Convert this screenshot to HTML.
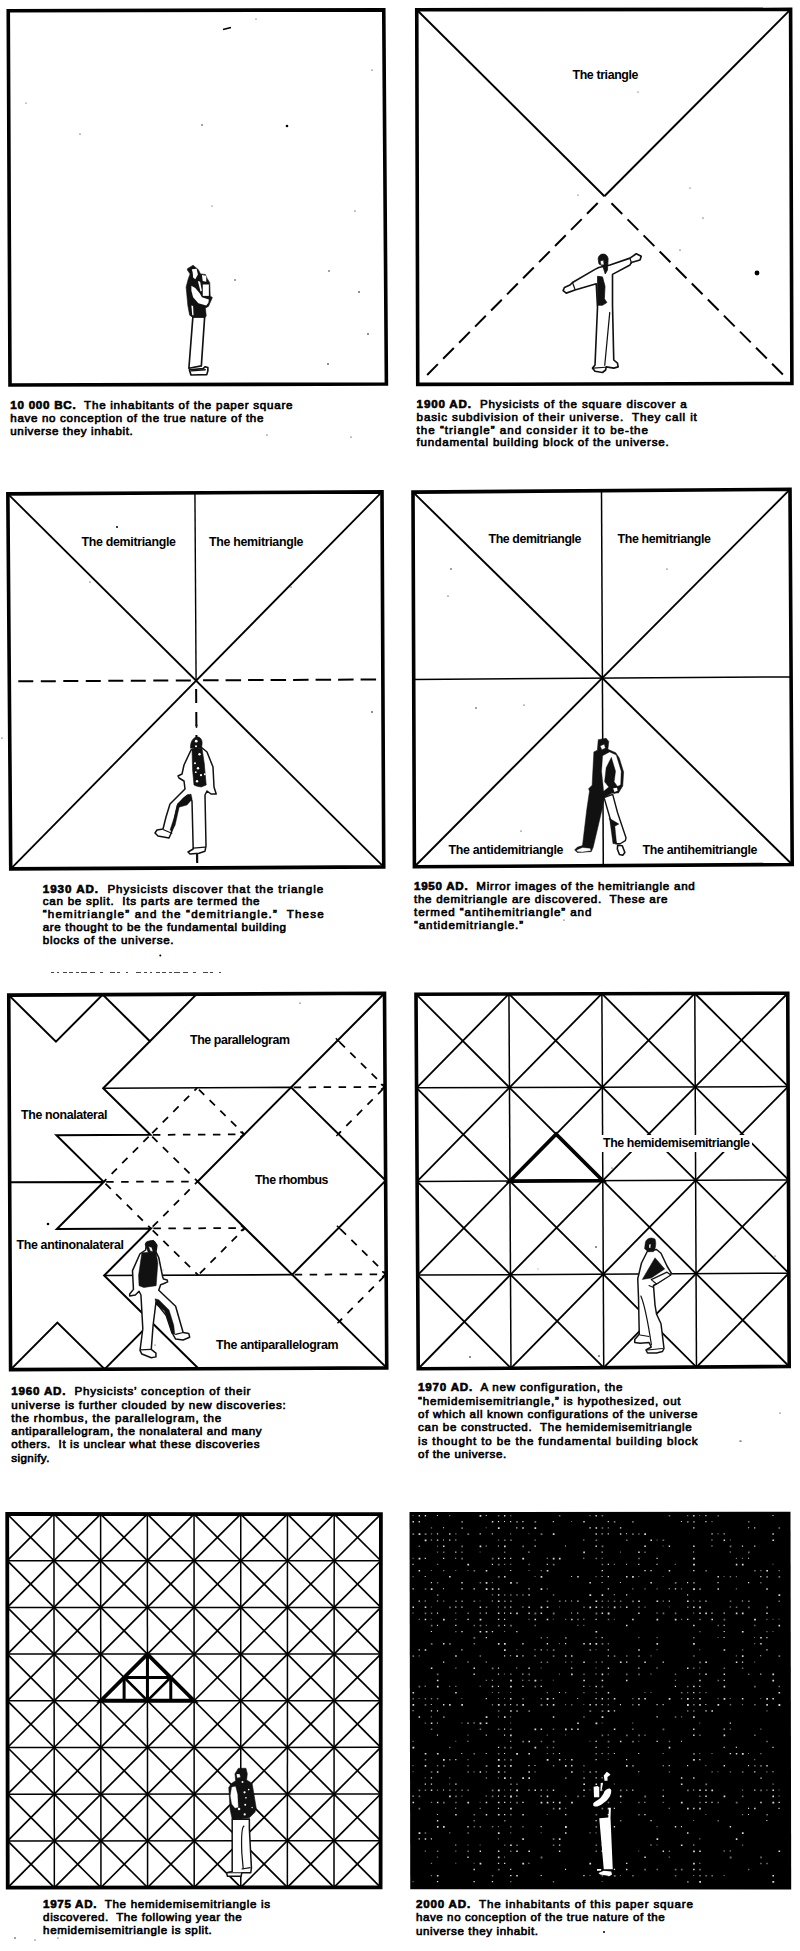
<!DOCTYPE html>
<html><head><meta charset="utf-8"><style>
html,body{margin:0;padding:0;background:#fff;width:800px;height:1951px;overflow:hidden}
svg{display:block}
text{font-family:"Liberation Sans",sans-serif;fill:#111;stroke:none;white-space:pre}
text.c{stroke:#000;stroke-width:0.65}
text{fill:#000}
</style></head><body>
<svg width="800" height="1951" viewBox="0 0 800 1951" stroke="#000" fill="none">
<rect x="0" y="0" width="800" height="1951" fill="#fff" stroke="none"/>
<path d="M8.25,10.75 L383.75,9.85 L386.40,384.00 L10.00,385.00 Z" fill="none" stroke-width="3.6" stroke-linejoin="miter"/>
<path d="M416.75,9.75 L790.60,9.40 L791.90,383.50 L417.75,384.40 Z" fill="none" stroke-width="3.6" stroke-linejoin="miter"/>
<line x1="416.75" y1="9.75" x2="604.40" y2="196.25" stroke-width="1.9" />
<line x1="790.60" y1="9.40" x2="604.40" y2="196.25" stroke-width="1.9" />
<line x1="597.71" y1="202.99" x2="423.38" y2="378.72" stroke-width="2.0" stroke-dasharray="15.2 7.5"/>
<line x1="611.48" y1="203.32" x2="786.24" y2="377.85" stroke-width="2.0" stroke-dasharray="15.2 7.5"/>
<path d="M7.85,493.85 L382.00,491.90 L383.75,866.90 L10.75,868.90 Z" fill="none" stroke-width="3.6" stroke-linejoin="miter"/>
<line x1="7.85" y1="493.85" x2="383.75" y2="866.90" stroke-width="1.8" />
<line x1="382.00" y1="491.90" x2="10.75" y2="868.90" stroke-width="1.8" />
<line x1="194.93" y1="492.88" x2="196.09" y2="680.39" stroke-width="1.4" />
<line x1="18.30" y1="681.33" x2="193.09" y2="680.40" stroke-width="2.0" stroke-dasharray="15 7.5"/>
<line x1="203.09" y1="680.35" x2="377.88" y2="679.43" stroke-width="2.0" stroke-dasharray="15.5 7"/>
<line x1="196.14" y1="688.89" x2="197.22" y2="862.90" stroke-width="2.0" stroke-dasharray="14 9"/>
<path d="M413.00,492.10 L790.00,489.35 L792.20,864.50 L414.40,866.75 Z" fill="none" stroke-width="3.6" stroke-linejoin="miter"/>
<line x1="413.00" y1="492.10" x2="792.20" y2="864.50" stroke-width="1.9" />
<line x1="790.00" y1="489.35" x2="414.40" y2="866.75" stroke-width="1.9" />
<line x1="601.50" y1="490.73" x2="603.30" y2="865.62" stroke-width="1.5" />
<line x1="413.70" y1="679.42" x2="791.10" y2="676.92" stroke-width="1.5" />
<path d="M8.75,995.10 L384.50,993.25 L386.75,1367.90 L10.60,1369.60 Z" fill="none" stroke-width="3.6" stroke-linejoin="miter"/>
<path d="M8.75,995.10 L55.96,1041.68 L102.69,994.64 L149.91,1041.23 L196.62,994.17" fill="none" stroke-width="2.0" stroke-linejoin="miter"/>
<path d="M149.91,1041.23 L103.17,1088.27 L150.41,1134.86 L56.43,1135.31 L103.66,1181.91" fill="none" stroke-width="2.0" stroke-linejoin="miter"/>
<path d="M103.17,1088.27 L291.10,1087.37" fill="none" stroke-width="1.6" stroke-linejoin="miter"/>
<path d="M384.50,993.25 L197.65,1181.46 L386.75,1367.90" fill="none" stroke-width="2.0" stroke-linejoin="miter"/>
<path d="M291.10,1087.37 L385.62,1180.58 L292.18,1274.67" fill="none" stroke-width="2.0" stroke-linejoin="miter"/>
<path d="M9.68,1182.35 L103.66,1181.91 L56.91,1228.94 L150.91,1228.50 L104.15,1275.54 L198.68,1368.75" fill="none" stroke-width="2.0" stroke-linejoin="miter"/>
<path d="M104.15,1275.54 L292.18,1274.67" fill="none" stroke-width="1.6" stroke-linejoin="miter"/>
<path d="M10.60,1369.60 L57.38,1322.57 L104.64,1369.17 L151.41,1322.14" fill="none" stroke-width="2.0" stroke-linejoin="miter"/>
<line x1="152.17" y1="1133.09" x2="197.14" y2="1087.82" stroke-width="1.75" stroke-dasharray="7.5 7.5"/>
<line x1="198.92" y1="1089.57" x2="244.38" y2="1134.42" stroke-width="1.75" stroke-dasharray="7.5 7.5"/>
<line x1="152.91" y1="1134.85" x2="244.38" y2="1134.42" stroke-width="1.75" stroke-dasharray="7.5 7.5"/>
<path d="M240.38,1131.62 L243.88,1134.42 L240.38,1137.22" stroke-width="1.6"/>
<line x1="148.64" y1="1136.64" x2="103.66" y2="1181.91" stroke-width="1.75" stroke-dasharray="7.5 7.5"/>
<line x1="152.19" y1="1136.62" x2="197.65" y2="1181.46" stroke-width="1.75" stroke-dasharray="7.5 7.5"/>
<line x1="106.16" y1="1181.89" x2="197.65" y2="1181.46" stroke-width="1.75" stroke-dasharray="7.5 7.5"/>
<line x1="105.44" y1="1183.66" x2="150.91" y2="1228.50" stroke-width="1.75" stroke-dasharray="7.5 7.5"/>
<line x1="152.67" y1="1226.73" x2="197.65" y2="1181.46" stroke-width="1.75" stroke-dasharray="7.5 7.5"/>
<line x1="153.41" y1="1228.49" x2="244.91" y2="1228.06" stroke-width="1.75" stroke-dasharray="7.5 7.5"/>
<path d="M240.91,1225.26 L244.41,1228.06 L240.91,1230.86" stroke-width="1.6"/>
<line x1="152.69" y1="1230.26" x2="198.16" y2="1275.11" stroke-width="1.75" stroke-dasharray="7.5 7.5"/>
<line x1="199.92" y1="1273.33" x2="244.91" y2="1228.06" stroke-width="1.75" stroke-dasharray="7.5 7.5"/>
<line x1="293.60" y1="1087.35" x2="385.06" y2="1086.91" stroke-width="1.75" stroke-dasharray="7.5 7.5"/>
<path d="M381.06,1084.11 L384.56,1086.91 L381.06,1089.71" stroke-width="1.6"/>
<line x1="339.59" y1="1042.07" x2="385.06" y2="1086.91" stroke-width="1.75" stroke-dasharray="7.5 7.5"/>
<line x1="383.30" y1="1088.69" x2="338.36" y2="1133.97" stroke-width="1.75" stroke-dasharray="7.5 7.5"/>
<line x1="294.67" y1="1274.66" x2="386.19" y2="1274.24" stroke-width="1.75" stroke-dasharray="7.5 7.5"/>
<path d="M382.19,1271.44 L385.69,1274.24 L382.19,1277.04" stroke-width="1.6"/>
<line x1="340.69" y1="1229.38" x2="386.19" y2="1274.24" stroke-width="1.75" stroke-dasharray="7.5 7.5"/>
<line x1="384.43" y1="1276.01" x2="339.46" y2="1321.28" stroke-width="1.75" stroke-dasharray="7.5 7.5"/>
<path d="M416.00,994.20 L787.75,993.25 L789.20,1366.50 L418.25,1368.75 Z" fill="none" stroke-width="3.6" stroke-linejoin="miter"/>
<line x1="508.94" y1="993.96" x2="510.99" y2="1368.19" stroke-width="1.5" />
<line x1="416.56" y1="1087.84" x2="788.11" y2="1086.56" stroke-width="1.5" />
<line x1="601.88" y1="993.73" x2="603.73" y2="1367.62" stroke-width="1.5" />
<line x1="417.12" y1="1181.47" x2="788.48" y2="1179.88" stroke-width="1.5" />
<line x1="694.81" y1="993.49" x2="696.46" y2="1367.06" stroke-width="1.5" />
<line x1="417.69" y1="1275.11" x2="788.84" y2="1273.19" stroke-width="1.5" />
<line x1="416.00" y1="994.20" x2="509.45" y2="1087.52" stroke-width="1.8" />
<line x1="508.94" y1="993.96" x2="416.56" y2="1087.84" stroke-width="1.8" />
<line x1="416.56" y1="1087.84" x2="509.96" y2="1181.08" stroke-width="1.8" />
<line x1="509.45" y1="1087.52" x2="417.12" y2="1181.47" stroke-width="1.8" />
<line x1="417.12" y1="1181.47" x2="510.48" y2="1274.63" stroke-width="1.8" />
<line x1="509.96" y1="1181.08" x2="417.69" y2="1275.11" stroke-width="1.8" />
<line x1="417.69" y1="1275.11" x2="510.99" y2="1368.19" stroke-width="1.8" />
<line x1="510.48" y1="1274.63" x2="418.25" y2="1368.75" stroke-width="1.8" />
<line x1="508.94" y1="993.96" x2="602.34" y2="1087.20" stroke-width="1.8" />
<line x1="601.88" y1="993.73" x2="509.45" y2="1087.52" stroke-width="1.8" />
<line x1="509.45" y1="1087.52" x2="602.80" y2="1180.67" stroke-width="1.8" />
<line x1="602.34" y1="1087.20" x2="509.96" y2="1181.08" stroke-width="1.8" />
<line x1="509.96" y1="1181.08" x2="603.26" y2="1274.15" stroke-width="1.8" />
<line x1="602.80" y1="1180.67" x2="510.48" y2="1274.63" stroke-width="1.8" />
<line x1="510.48" y1="1274.63" x2="603.73" y2="1367.62" stroke-width="1.8" />
<line x1="603.26" y1="1274.15" x2="510.99" y2="1368.19" stroke-width="1.8" />
<line x1="601.88" y1="993.73" x2="695.23" y2="1086.88" stroke-width="1.8" />
<line x1="694.81" y1="993.49" x2="602.34" y2="1087.20" stroke-width="1.8" />
<line x1="602.34" y1="1087.20" x2="695.64" y2="1180.28" stroke-width="1.8" />
<line x1="695.23" y1="1086.88" x2="602.80" y2="1180.67" stroke-width="1.8" />
<line x1="602.80" y1="1180.67" x2="696.05" y2="1273.67" stroke-width="1.8" />
<line x1="695.64" y1="1180.28" x2="603.26" y2="1274.15" stroke-width="1.8" />
<line x1="603.26" y1="1274.15" x2="696.46" y2="1367.06" stroke-width="1.8" />
<line x1="696.05" y1="1273.67" x2="603.73" y2="1367.62" stroke-width="1.8" />
<line x1="694.81" y1="993.49" x2="788.11" y2="1086.56" stroke-width="1.8" />
<line x1="787.75" y1="993.25" x2="695.23" y2="1086.88" stroke-width="1.8" />
<line x1="695.23" y1="1086.88" x2="788.48" y2="1179.88" stroke-width="1.8" />
<line x1="788.11" y1="1086.56" x2="695.64" y2="1180.28" stroke-width="1.8" />
<line x1="695.64" y1="1180.28" x2="788.84" y2="1273.19" stroke-width="1.8" />
<line x1="788.48" y1="1179.88" x2="696.05" y2="1273.67" stroke-width="1.8" />
<line x1="696.05" y1="1273.67" x2="789.20" y2="1366.50" stroke-width="1.8" />
<line x1="788.84" y1="1273.19" x2="696.46" y2="1367.06" stroke-width="1.8" />
<path d="M509.96,1181.08 L556.14,1134.12 L602.80,1180.67 Z" fill="none" stroke-width="3.6" stroke-linejoin="miter"/>
<path d="M7.20,1514.00 L380.90,1514.10 L380.60,1887.30 L7.75,1887.60 Z" fill="none" stroke-width="3.8" stroke-linejoin="miter"/>
<line x1="53.91" y1="1514.01" x2="54.36" y2="1887.56" stroke-width="1.5" />
<line x1="7.27" y1="1560.70" x2="380.86" y2="1560.75" stroke-width="1.5" />
<line x1="100.62" y1="1514.03" x2="100.96" y2="1887.52" stroke-width="1.5" />
<line x1="7.34" y1="1607.40" x2="380.82" y2="1607.40" stroke-width="1.5" />
<line x1="147.34" y1="1514.04" x2="147.57" y2="1887.49" stroke-width="1.5" />
<line x1="7.41" y1="1654.10" x2="380.79" y2="1654.05" stroke-width="1.5" />
<line x1="194.05" y1="1514.05" x2="194.18" y2="1887.45" stroke-width="1.5" />
<line x1="7.47" y1="1700.80" x2="380.75" y2="1700.70" stroke-width="1.5" />
<line x1="240.76" y1="1514.06" x2="240.78" y2="1887.41" stroke-width="1.5" />
<line x1="7.54" y1="1747.50" x2="380.71" y2="1747.35" stroke-width="1.5" />
<line x1="287.47" y1="1514.07" x2="287.39" y2="1887.38" stroke-width="1.5" />
<line x1="7.61" y1="1794.20" x2="380.68" y2="1794.00" stroke-width="1.5" />
<line x1="334.19" y1="1514.09" x2="333.99" y2="1887.34" stroke-width="1.5" />
<line x1="7.68" y1="1840.90" x2="380.64" y2="1840.65" stroke-width="1.5" />
<line x1="7.20" y1="1514.00" x2="53.97" y2="1560.71" stroke-width="1.7" />
<line x1="53.91" y1="1514.01" x2="7.27" y2="1560.70" stroke-width="1.7" />
<line x1="7.27" y1="1560.70" x2="54.02" y2="1607.40" stroke-width="1.7" />
<line x1="53.97" y1="1560.71" x2="7.34" y2="1607.40" stroke-width="1.7" />
<line x1="7.34" y1="1607.40" x2="54.08" y2="1654.09" stroke-width="1.7" />
<line x1="54.02" y1="1607.40" x2="7.41" y2="1654.10" stroke-width="1.7" />
<line x1="7.41" y1="1654.10" x2="54.13" y2="1700.79" stroke-width="1.7" />
<line x1="54.08" y1="1654.09" x2="7.47" y2="1700.80" stroke-width="1.7" />
<line x1="7.47" y1="1700.80" x2="54.19" y2="1747.48" stroke-width="1.7" />
<line x1="54.13" y1="1700.79" x2="7.54" y2="1747.50" stroke-width="1.7" />
<line x1="7.54" y1="1747.50" x2="54.25" y2="1794.17" stroke-width="1.7" />
<line x1="54.19" y1="1747.48" x2="7.61" y2="1794.20" stroke-width="1.7" />
<line x1="7.61" y1="1794.20" x2="54.30" y2="1840.87" stroke-width="1.7" />
<line x1="54.25" y1="1794.17" x2="7.68" y2="1840.90" stroke-width="1.7" />
<line x1="7.68" y1="1840.90" x2="54.36" y2="1887.56" stroke-width="1.7" />
<line x1="54.30" y1="1840.87" x2="7.75" y2="1887.60" stroke-width="1.7" />
<line x1="53.91" y1="1514.01" x2="100.67" y2="1560.71" stroke-width="1.7" />
<line x1="100.62" y1="1514.03" x2="53.97" y2="1560.71" stroke-width="1.7" />
<line x1="53.97" y1="1560.71" x2="100.71" y2="1607.40" stroke-width="1.7" />
<line x1="100.67" y1="1560.71" x2="54.02" y2="1607.40" stroke-width="1.7" />
<line x1="54.02" y1="1607.40" x2="100.75" y2="1654.09" stroke-width="1.7" />
<line x1="100.71" y1="1607.40" x2="54.08" y2="1654.09" stroke-width="1.7" />
<line x1="54.08" y1="1654.09" x2="100.79" y2="1700.77" stroke-width="1.7" />
<line x1="100.75" y1="1654.09" x2="54.13" y2="1700.79" stroke-width="1.7" />
<line x1="54.13" y1="1700.79" x2="100.84" y2="1747.46" stroke-width="1.7" />
<line x1="100.79" y1="1700.77" x2="54.19" y2="1747.48" stroke-width="1.7" />
<line x1="54.19" y1="1747.48" x2="100.88" y2="1794.15" stroke-width="1.7" />
<line x1="100.84" y1="1747.46" x2="54.25" y2="1794.17" stroke-width="1.7" />
<line x1="54.25" y1="1794.17" x2="100.92" y2="1840.84" stroke-width="1.7" />
<line x1="100.88" y1="1794.15" x2="54.30" y2="1840.87" stroke-width="1.7" />
<line x1="54.30" y1="1840.87" x2="100.96" y2="1887.52" stroke-width="1.7" />
<line x1="100.92" y1="1840.84" x2="54.36" y2="1887.56" stroke-width="1.7" />
<line x1="100.62" y1="1514.03" x2="147.37" y2="1560.72" stroke-width="1.7" />
<line x1="147.34" y1="1514.04" x2="100.67" y2="1560.71" stroke-width="1.7" />
<line x1="100.67" y1="1560.71" x2="147.40" y2="1607.40" stroke-width="1.7" />
<line x1="147.37" y1="1560.72" x2="100.71" y2="1607.40" stroke-width="1.7" />
<line x1="100.71" y1="1607.40" x2="147.42" y2="1654.08" stroke-width="1.7" />
<line x1="147.40" y1="1607.40" x2="100.75" y2="1654.09" stroke-width="1.7" />
<line x1="100.75" y1="1654.09" x2="147.45" y2="1700.76" stroke-width="1.7" />
<line x1="147.42" y1="1654.08" x2="100.79" y2="1700.77" stroke-width="1.7" />
<line x1="100.79" y1="1700.77" x2="147.48" y2="1747.44" stroke-width="1.7" />
<line x1="147.45" y1="1700.76" x2="100.84" y2="1747.46" stroke-width="1.7" />
<line x1="100.84" y1="1747.46" x2="147.51" y2="1794.12" stroke-width="1.7" />
<line x1="147.48" y1="1747.44" x2="100.88" y2="1794.15" stroke-width="1.7" />
<line x1="100.88" y1="1794.15" x2="147.54" y2="1840.81" stroke-width="1.7" />
<line x1="147.51" y1="1794.12" x2="100.92" y2="1840.84" stroke-width="1.7" />
<line x1="100.92" y1="1840.84" x2="147.57" y2="1887.49" stroke-width="1.7" />
<line x1="147.54" y1="1840.81" x2="100.96" y2="1887.52" stroke-width="1.7" />
<line x1="147.34" y1="1514.04" x2="194.07" y2="1560.72" stroke-width="1.7" />
<line x1="194.05" y1="1514.05" x2="147.37" y2="1560.72" stroke-width="1.7" />
<line x1="147.37" y1="1560.72" x2="194.08" y2="1607.40" stroke-width="1.7" />
<line x1="194.07" y1="1560.72" x2="147.40" y2="1607.40" stroke-width="1.7" />
<line x1="147.40" y1="1607.40" x2="194.10" y2="1654.07" stroke-width="1.7" />
<line x1="194.08" y1="1607.40" x2="147.42" y2="1654.08" stroke-width="1.7" />
<line x1="147.42" y1="1654.08" x2="194.11" y2="1700.75" stroke-width="1.7" />
<line x1="194.10" y1="1654.07" x2="147.45" y2="1700.76" stroke-width="1.7" />
<line x1="147.45" y1="1700.76" x2="194.13" y2="1747.42" stroke-width="1.7" />
<line x1="194.11" y1="1700.75" x2="147.48" y2="1747.44" stroke-width="1.7" />
<line x1="147.48" y1="1747.44" x2="194.14" y2="1794.10" stroke-width="1.7" />
<line x1="194.13" y1="1747.42" x2="147.51" y2="1794.12" stroke-width="1.7" />
<line x1="147.51" y1="1794.12" x2="194.16" y2="1840.78" stroke-width="1.7" />
<line x1="194.14" y1="1794.10" x2="147.54" y2="1840.81" stroke-width="1.7" />
<line x1="147.54" y1="1840.81" x2="194.18" y2="1887.45" stroke-width="1.7" />
<line x1="194.16" y1="1840.78" x2="147.57" y2="1887.49" stroke-width="1.7" />
<line x1="194.05" y1="1514.05" x2="240.76" y2="1560.73" stroke-width="1.7" />
<line x1="240.76" y1="1514.06" x2="194.07" y2="1560.72" stroke-width="1.7" />
<line x1="194.07" y1="1560.72" x2="240.77" y2="1607.40" stroke-width="1.7" />
<line x1="240.76" y1="1560.73" x2="194.08" y2="1607.40" stroke-width="1.7" />
<line x1="194.08" y1="1607.40" x2="240.77" y2="1654.07" stroke-width="1.7" />
<line x1="240.77" y1="1607.40" x2="194.10" y2="1654.07" stroke-width="1.7" />
<line x1="194.10" y1="1654.07" x2="240.77" y2="1700.74" stroke-width="1.7" />
<line x1="240.77" y1="1654.07" x2="194.11" y2="1700.75" stroke-width="1.7" />
<line x1="194.11" y1="1700.75" x2="240.77" y2="1747.41" stroke-width="1.7" />
<line x1="240.77" y1="1700.74" x2="194.13" y2="1747.42" stroke-width="1.7" />
<line x1="194.13" y1="1747.42" x2="240.78" y2="1794.07" stroke-width="1.7" />
<line x1="240.77" y1="1747.41" x2="194.14" y2="1794.10" stroke-width="1.7" />
<line x1="194.14" y1="1794.10" x2="240.78" y2="1840.74" stroke-width="1.7" />
<line x1="240.78" y1="1794.07" x2="194.16" y2="1840.78" stroke-width="1.7" />
<line x1="194.16" y1="1840.78" x2="240.78" y2="1887.41" stroke-width="1.7" />
<line x1="240.78" y1="1840.74" x2="194.18" y2="1887.45" stroke-width="1.7" />
<line x1="240.76" y1="1514.06" x2="287.46" y2="1560.74" stroke-width="1.7" />
<line x1="287.47" y1="1514.07" x2="240.76" y2="1560.73" stroke-width="1.7" />
<line x1="240.76" y1="1560.73" x2="287.45" y2="1607.40" stroke-width="1.7" />
<line x1="287.46" y1="1560.74" x2="240.77" y2="1607.40" stroke-width="1.7" />
<line x1="240.77" y1="1607.40" x2="287.44" y2="1654.06" stroke-width="1.7" />
<line x1="287.45" y1="1607.40" x2="240.77" y2="1654.07" stroke-width="1.7" />
<line x1="240.77" y1="1654.07" x2="287.43" y2="1700.72" stroke-width="1.7" />
<line x1="287.44" y1="1654.06" x2="240.77" y2="1700.74" stroke-width="1.7" />
<line x1="240.77" y1="1700.74" x2="287.42" y2="1747.39" stroke-width="1.7" />
<line x1="287.43" y1="1700.72" x2="240.77" y2="1747.41" stroke-width="1.7" />
<line x1="240.77" y1="1747.41" x2="287.41" y2="1794.05" stroke-width="1.7" />
<line x1="287.42" y1="1747.39" x2="240.78" y2="1794.07" stroke-width="1.7" />
<line x1="240.78" y1="1794.07" x2="287.40" y2="1840.71" stroke-width="1.7" />
<line x1="287.41" y1="1794.05" x2="240.78" y2="1840.74" stroke-width="1.7" />
<line x1="240.78" y1="1840.74" x2="287.39" y2="1887.38" stroke-width="1.7" />
<line x1="287.40" y1="1840.71" x2="240.78" y2="1887.41" stroke-width="1.7" />
<line x1="287.47" y1="1514.07" x2="334.16" y2="1560.74" stroke-width="1.7" />
<line x1="334.19" y1="1514.09" x2="287.46" y2="1560.74" stroke-width="1.7" />
<line x1="287.46" y1="1560.74" x2="334.14" y2="1607.40" stroke-width="1.7" />
<line x1="334.16" y1="1560.74" x2="287.45" y2="1607.40" stroke-width="1.7" />
<line x1="287.45" y1="1607.40" x2="334.11" y2="1654.06" stroke-width="1.7" />
<line x1="334.14" y1="1607.40" x2="287.44" y2="1654.06" stroke-width="1.7" />
<line x1="287.44" y1="1654.06" x2="334.09" y2="1700.71" stroke-width="1.7" />
<line x1="334.11" y1="1654.06" x2="287.43" y2="1700.72" stroke-width="1.7" />
<line x1="287.43" y1="1700.72" x2="334.07" y2="1747.37" stroke-width="1.7" />
<line x1="334.09" y1="1700.71" x2="287.42" y2="1747.39" stroke-width="1.7" />
<line x1="287.42" y1="1747.39" x2="334.04" y2="1794.03" stroke-width="1.7" />
<line x1="334.07" y1="1747.37" x2="287.41" y2="1794.05" stroke-width="1.7" />
<line x1="287.41" y1="1794.05" x2="334.02" y2="1840.68" stroke-width="1.7" />
<line x1="334.04" y1="1794.03" x2="287.40" y2="1840.71" stroke-width="1.7" />
<line x1="287.40" y1="1840.71" x2="333.99" y2="1887.34" stroke-width="1.7" />
<line x1="334.02" y1="1840.68" x2="287.39" y2="1887.38" stroke-width="1.7" />
<line x1="334.19" y1="1514.09" x2="380.86" y2="1560.75" stroke-width="1.7" />
<line x1="380.90" y1="1514.10" x2="334.16" y2="1560.74" stroke-width="1.7" />
<line x1="334.16" y1="1560.74" x2="380.82" y2="1607.40" stroke-width="1.7" />
<line x1="380.86" y1="1560.75" x2="334.14" y2="1607.40" stroke-width="1.7" />
<line x1="334.14" y1="1607.40" x2="380.79" y2="1654.05" stroke-width="1.7" />
<line x1="380.82" y1="1607.40" x2="334.11" y2="1654.06" stroke-width="1.7" />
<line x1="334.11" y1="1654.06" x2="380.75" y2="1700.70" stroke-width="1.7" />
<line x1="380.79" y1="1654.05" x2="334.09" y2="1700.71" stroke-width="1.7" />
<line x1="334.09" y1="1700.71" x2="380.71" y2="1747.35" stroke-width="1.7" />
<line x1="380.75" y1="1700.70" x2="334.07" y2="1747.37" stroke-width="1.7" />
<line x1="334.07" y1="1747.37" x2="380.68" y2="1794.00" stroke-width="1.7" />
<line x1="380.71" y1="1747.35" x2="334.04" y2="1794.03" stroke-width="1.7" />
<line x1="334.04" y1="1794.03" x2="380.64" y2="1840.65" stroke-width="1.7" />
<line x1="380.68" y1="1794.00" x2="334.02" y2="1840.68" stroke-width="1.7" />
<line x1="334.02" y1="1840.68" x2="380.60" y2="1887.30" stroke-width="1.7" />
<line x1="380.64" y1="1840.65" x2="333.99" y2="1887.34" stroke-width="1.7" />
<path d="M100.79,1700.77 L147.42,1654.08 L194.11,1700.75 Z" fill="none" stroke-width="3.8" stroke-linejoin="miter"/>
<path d="M124.11,1677.43 L170.77,1677.42" fill="none" stroke-width="3.0" stroke-linejoin="miter"/>
<path d="M124.11,1677.43 L124.12,1700.77" fill="none" stroke-width="3.0" stroke-linejoin="miter"/>
<path d="M170.77,1677.42 L170.78,1700.76" fill="none" stroke-width="3.0" stroke-linejoin="miter"/>
<path d="M147.42,1654.08 L147.45,1700.76" fill="none" stroke-width="3.0" stroke-linejoin="miter"/>
<path d="M124.11,1677.43 L147.45,1700.76 L170.77,1677.42" fill="none" stroke-width="2.6" stroke-linejoin="miter"/>
<path d="M409.5,1512 L790.5,1511.75 L791.2,1889.5 L410.25,1889.25 Z" fill="#000" stroke="none"/>
<path d="M418.6,1515.0h1.4v1.4h-1.4zM424.7,1515.0h1.4v1.4h-1.4zM436.9,1515.0h1.1v1.1h-1.1zM479.6,1515.0h1.7v1.7h-1.7zM485.7,1515.0h1.1v1.1h-1.1zM504.0,1515.0h1.4v1.4h-1.4zM595.5,1515.0h1.4v1.4h-1.4zM693.1,1515.0h1.4v1.4h-1.4zM705.3,1515.0h1.2v1.2h-1.2zM772.4,1515.0h1.1v1.1h-1.1zM412.5,1521.1h1.5v1.5h-1.5zM418.6,1521.1h1.3v1.3h-1.3zM491.8,1521.1h1.5v1.5h-1.5zM497.9,1521.1h1.2v1.2h-1.2zM504.0,1521.1h1.0v1.0h-1.0zM510.1,1521.1h1.1v1.1h-1.1zM522.3,1521.1h1.2v1.2h-1.2zM552.8,1521.1h1.1v1.1h-1.1zM583.3,1521.1h1.4v1.4h-1.4zM607.7,1521.1h1.2v1.2h-1.2zM680.9,1521.1h1.0v1.0h-1.0zM705.3,1521.1h1.2v1.2h-1.2zM443.0,1527.2h1.1v1.1h-1.1zM497.9,1527.2h1.7v1.7h-1.7zM516.2,1527.2h1.2v1.2h-1.2zM522.3,1527.2h1.5v1.5h-1.5zM534.5,1527.2h1.7v1.7h-1.7zM589.4,1527.2h1.4v1.4h-1.4zM595.5,1527.2h1.6v1.6h-1.6zM619.9,1527.2h1.4v1.4h-1.4zM693.1,1527.2h1.4v1.4h-1.4zM748.0,1527.2h1.1v1.1h-1.1zM754.1,1527.2h1.2v1.2h-1.2zM418.6,1533.3h1.8v1.8h-1.8zM436.9,1533.3h1.2v1.2h-1.2zM449.1,1533.3h1.4v1.4h-1.4zM479.6,1533.3h1.2v1.2h-1.2zM491.8,1533.3h1.1v1.1h-1.1zM552.8,1533.3h1.7v1.7h-1.7zM595.5,1533.3h1.4v1.4h-1.4zM601.6,1533.3h1.1v1.1h-1.1zM607.7,1533.3h1.2v1.2h-1.2zM619.9,1533.3h1.4v1.4h-1.4zM626.0,1533.3h1.0v1.0h-1.0zM644.3,1533.3h1.7v1.7h-1.7zM711.4,1533.3h1.3v1.3h-1.3zM723.6,1533.3h1.1v1.1h-1.1zM772.4,1533.3h1.4v1.4h-1.4zM424.7,1539.4h1.8v1.8h-1.8zM430.8,1539.4h1.0v1.0h-1.0zM436.9,1539.4h1.4v1.4h-1.4zM443.0,1539.4h1.0v1.0h-1.0zM449.1,1539.4h1.3v1.3h-1.3zM455.2,1539.4h1.2v1.2h-1.2zM583.3,1539.4h1.0v1.0h-1.0zM650.4,1539.4h1.6v1.6h-1.6zM711.4,1539.4h1.1v1.1h-1.1zM723.6,1539.4h1.5v1.5h-1.5zM772.4,1539.4h1.7v1.7h-1.7zM443.0,1545.5h1.5v1.5h-1.5zM479.6,1545.5h1.7v1.7h-1.7zM485.7,1545.5h1.0v1.0h-1.0zM497.9,1545.5h1.1v1.1h-1.1zM504.0,1545.5h1.7v1.7h-1.7zM534.5,1545.5h1.3v1.3h-1.3zM565.0,1545.5h1.0v1.0h-1.0zM595.5,1545.5h1.4v1.4h-1.4zM644.3,1545.5h1.6v1.6h-1.6zM668.7,1545.5h1.4v1.4h-1.4zM693.1,1545.5h1.5v1.5h-1.5zM711.4,1545.5h1.1v1.1h-1.1zM741.9,1545.5h1.2v1.2h-1.2zM754.1,1545.5h1.2v1.2h-1.2zM455.2,1551.6h1.2v1.2h-1.2zM528.4,1551.6h1.1v1.1h-1.1zM583.3,1551.6h1.6v1.6h-1.6zM601.6,1551.6h1.1v1.1h-1.1zM638.2,1551.6h1.5v1.5h-1.5zM693.1,1551.6h1.0v1.0h-1.0zM729.7,1551.6h1.0v1.0h-1.0zM418.6,1557.7h1.8v1.8h-1.8zM424.7,1557.7h1.2v1.2h-1.2zM443.0,1557.7h1.3v1.3h-1.3zM455.2,1557.7h1.0v1.0h-1.0zM497.9,1557.7h1.5v1.5h-1.5zM504.0,1557.7h1.3v1.3h-1.3zM510.1,1557.7h1.2v1.2h-1.2zM522.3,1557.7h1.8v1.8h-1.8zM546.7,1557.7h1.0v1.0h-1.0zM552.8,1557.7h1.7v1.7h-1.7zM558.9,1557.7h1.7v1.7h-1.7zM583.3,1557.7h1.0v1.0h-1.0zM656.5,1557.7h1.2v1.2h-1.2zM693.1,1557.7h1.7v1.7h-1.7zM748.0,1557.7h1.1v1.1h-1.1zM412.5,1563.8h1.1v1.1h-1.1zM467.4,1563.8h1.7v1.7h-1.7zM491.8,1563.8h1.2v1.2h-1.2zM546.7,1563.8h1.2v1.2h-1.2zM607.7,1563.8h1.3v1.3h-1.3zM626.0,1563.8h1.0v1.0h-1.0zM638.2,1563.8h1.2v1.2h-1.2zM656.5,1563.8h1.1v1.1h-1.1zM693.1,1563.8h1.8v1.8h-1.8zM735.8,1563.8h1.6v1.6h-1.6zM741.9,1563.8h1.7v1.7h-1.7zM418.6,1569.9h1.5v1.5h-1.5zM485.7,1569.9h1.6v1.6h-1.6zM510.1,1569.9h1.2v1.2h-1.2zM546.7,1569.9h1.7v1.7h-1.7zM601.6,1569.9h1.4v1.4h-1.4zM644.3,1569.9h1.4v1.4h-1.4zM650.4,1569.9h1.3v1.3h-1.3zM668.7,1569.9h1.5v1.5h-1.5zM693.1,1569.9h1.4v1.4h-1.4zM766.3,1569.9h1.7v1.7h-1.7zM424.7,1576.0h1.1v1.1h-1.1zM449.1,1576.0h1.6v1.6h-1.6zM504.0,1576.0h1.6v1.6h-1.6zM540.6,1576.0h1.7v1.7h-1.7zM571.1,1576.0h1.0v1.0h-1.0zM577.2,1576.0h1.5v1.5h-1.5zM601.6,1576.0h1.0v1.0h-1.0zM607.7,1576.0h1.3v1.3h-1.3zM626.0,1576.0h1.5v1.5h-1.5zM632.1,1576.0h1.7v1.7h-1.7zM717.5,1576.0h1.4v1.4h-1.4zM760.2,1576.0h1.2v1.2h-1.2zM430.8,1582.1h1.1v1.1h-1.1zM461.3,1582.1h1.4v1.4h-1.4zM485.7,1582.1h1.7v1.7h-1.7zM510.1,1582.1h1.7v1.7h-1.7zM589.4,1582.1h1.5v1.5h-1.5zM601.6,1582.1h1.0v1.0h-1.0zM619.9,1582.1h1.0v1.0h-1.0zM650.4,1582.1h1.5v1.5h-1.5zM687.0,1582.1h1.2v1.2h-1.2zM717.5,1582.1h1.1v1.1h-1.1zM748.0,1582.1h1.2v1.2h-1.2zM412.5,1588.2h1.3v1.3h-1.3zM430.8,1588.2h1.7v1.7h-1.7zM443.0,1588.2h1.0v1.0h-1.0zM461.3,1588.2h1.4v1.4h-1.4zM473.5,1588.2h1.4v1.4h-1.4zM485.7,1588.2h1.8v1.8h-1.8zM491.8,1588.2h1.6v1.6h-1.6zM497.9,1588.2h1.5v1.5h-1.5zM528.4,1588.2h1.3v1.3h-1.3zM540.6,1588.2h1.7v1.7h-1.7zM607.7,1588.2h1.3v1.3h-1.3zM668.7,1588.2h1.1v1.1h-1.1zM674.8,1588.2h1.4v1.4h-1.4zM693.1,1588.2h1.8v1.8h-1.8zM717.5,1588.2h1.5v1.5h-1.5zM766.3,1588.2h1.5v1.5h-1.5zM497.9,1594.3h1.5v1.5h-1.5zM528.4,1594.3h1.4v1.4h-1.4zM589.4,1594.3h1.8v1.8h-1.8zM601.6,1594.3h1.6v1.6h-1.6zM613.8,1594.3h1.0v1.0h-1.0zM626.0,1594.3h1.3v1.3h-1.3zM687.0,1594.3h1.2v1.2h-1.2zM778.5,1594.3h1.7v1.7h-1.7zM418.6,1600.4h1.3v1.3h-1.3zM424.7,1600.4h1.1v1.1h-1.1zM436.9,1600.4h1.2v1.2h-1.2zM491.8,1600.4h1.1v1.1h-1.1zM497.9,1600.4h1.6v1.6h-1.6zM565.0,1600.4h1.2v1.2h-1.2zM571.1,1600.4h1.0v1.0h-1.0zM577.2,1600.4h1.4v1.4h-1.4zM595.5,1600.4h1.7v1.7h-1.7zM638.2,1600.4h1.7v1.7h-1.7zM656.5,1600.4h1.7v1.7h-1.7zM668.7,1600.4h1.3v1.3h-1.3zM687.0,1600.4h1.7v1.7h-1.7zM705.3,1600.4h1.3v1.3h-1.3zM741.9,1600.4h1.2v1.2h-1.2zM412.5,1606.5h1.5v1.5h-1.5zM424.7,1606.5h1.6v1.6h-1.6zM455.2,1606.5h1.2v1.2h-1.2zM461.3,1606.5h1.3v1.3h-1.3zM479.6,1606.5h1.5v1.5h-1.5zM497.9,1606.5h1.0v1.0h-1.0zM510.1,1606.5h1.3v1.3h-1.3zM522.3,1606.5h1.1v1.1h-1.1zM528.4,1606.5h1.5v1.5h-1.5zM540.6,1606.5h1.7v1.7h-1.7zM546.7,1606.5h1.6v1.6h-1.6zM589.4,1606.5h1.7v1.7h-1.7zM595.5,1606.5h1.6v1.6h-1.6zM613.8,1606.5h1.7v1.7h-1.7zM626.0,1606.5h1.5v1.5h-1.5zM693.1,1606.5h1.5v1.5h-1.5zM699.2,1606.5h1.7v1.7h-1.7zM729.7,1606.5h1.0v1.0h-1.0zM436.9,1612.6h1.2v1.2h-1.2zM485.7,1612.6h1.2v1.2h-1.2zM497.9,1612.6h1.5v1.5h-1.5zM504.0,1612.6h1.1v1.1h-1.1zM510.1,1612.6h1.3v1.3h-1.3zM516.2,1612.6h1.6v1.6h-1.6zM528.4,1612.6h1.4v1.4h-1.4zM540.6,1612.6h1.5v1.5h-1.5zM571.1,1612.6h1.0v1.0h-1.0zM577.2,1612.6h1.1v1.1h-1.1zM601.6,1612.6h1.5v1.5h-1.5zM607.7,1612.6h1.8v1.8h-1.8zM638.2,1612.6h1.4v1.4h-1.4zM656.5,1612.6h1.0v1.0h-1.0zM699.2,1612.6h1.5v1.5h-1.5zM705.3,1612.6h1.6v1.6h-1.6zM711.4,1612.6h1.2v1.2h-1.2zM723.6,1612.6h1.2v1.2h-1.2zM735.8,1612.6h1.6v1.6h-1.6zM741.9,1612.6h1.7v1.7h-1.7zM766.3,1612.6h1.4v1.4h-1.4zM424.7,1618.7h1.5v1.5h-1.5zM443.0,1618.7h1.7v1.7h-1.7zM467.4,1618.7h1.4v1.4h-1.4zM479.6,1618.7h1.8v1.8h-1.8zM497.9,1618.7h1.4v1.4h-1.4zM504.0,1618.7h1.2v1.2h-1.2zM534.5,1618.7h1.6v1.6h-1.6zM546.7,1618.7h1.6v1.6h-1.6zM571.1,1618.7h1.5v1.5h-1.5zM583.3,1618.7h1.1v1.1h-1.1zM595.5,1618.7h1.2v1.2h-1.2zM632.1,1618.7h1.6v1.6h-1.6zM656.5,1618.7h1.7v1.7h-1.7zM674.8,1618.7h1.7v1.7h-1.7zM687.0,1618.7h1.4v1.4h-1.4zM711.4,1618.7h1.6v1.6h-1.6zM754.1,1618.7h1.8v1.8h-1.8zM436.9,1624.8h1.1v1.1h-1.1zM455.2,1624.8h1.3v1.3h-1.3zM504.0,1624.8h1.2v1.2h-1.2zM626.0,1624.8h1.5v1.5h-1.5zM693.1,1624.8h1.5v1.5h-1.5zM723.6,1624.8h1.1v1.1h-1.1zM778.5,1624.8h1.6v1.6h-1.6zM430.8,1630.9h1.2v1.2h-1.2zM461.3,1630.9h1.4v1.4h-1.4zM479.6,1630.9h1.6v1.6h-1.6zM485.7,1630.9h1.7v1.7h-1.7zM491.8,1630.9h1.3v1.3h-1.3zM516.2,1630.9h1.3v1.3h-1.3zM595.5,1630.9h1.7v1.7h-1.7zM723.6,1630.9h1.2v1.2h-1.2zM741.9,1630.9h1.7v1.7h-1.7zM485.7,1637.0h1.3v1.3h-1.3zM601.6,1637.0h1.2v1.2h-1.2zM723.6,1637.0h1.1v1.1h-1.1zM760.2,1637.0h1.6v1.6h-1.6zM766.3,1637.0h1.2v1.2h-1.2zM443.0,1643.1h1.5v1.5h-1.5zM497.9,1643.1h1.6v1.6h-1.6zM504.0,1643.1h1.7v1.7h-1.7zM522.3,1643.1h1.3v1.3h-1.3zM546.7,1643.1h1.4v1.4h-1.4zM565.0,1643.1h1.2v1.2h-1.2zM583.3,1643.1h1.5v1.5h-1.5zM589.4,1643.1h1.6v1.6h-1.6zM595.5,1643.1h1.7v1.7h-1.7zM656.5,1643.1h1.6v1.6h-1.6zM693.1,1643.1h1.7v1.7h-1.7zM760.2,1643.1h1.5v1.5h-1.5zM418.6,1649.2h1.2v1.2h-1.2zM424.7,1649.2h1.6v1.6h-1.6zM461.3,1649.2h1.2v1.2h-1.2zM504.0,1649.2h1.7v1.7h-1.7zM534.5,1649.2h1.0v1.0h-1.0zM540.6,1649.2h1.2v1.2h-1.2zM607.7,1649.2h1.2v1.2h-1.2zM638.2,1649.2h1.6v1.6h-1.6zM723.6,1649.2h1.6v1.6h-1.6zM766.3,1649.2h1.3v1.3h-1.3zM455.2,1655.3h1.5v1.5h-1.5zM504.0,1655.3h1.2v1.2h-1.2zM510.1,1655.3h1.0v1.0h-1.0zM516.2,1655.3h1.6v1.6h-1.6zM522.3,1655.3h1.3v1.3h-1.3zM534.5,1655.3h1.1v1.1h-1.1zM565.0,1655.3h1.4v1.4h-1.4zM571.1,1655.3h1.4v1.4h-1.4zM607.7,1655.3h1.2v1.2h-1.2zM741.9,1655.3h1.6v1.6h-1.6zM760.2,1655.3h1.0v1.0h-1.0zM443.0,1661.4h1.3v1.3h-1.3zM467.4,1661.4h1.2v1.2h-1.2zM485.7,1661.4h1.1v1.1h-1.1zM583.3,1661.4h1.5v1.5h-1.5zM601.6,1661.4h1.1v1.1h-1.1zM619.9,1661.4h1.7v1.7h-1.7zM626.0,1661.4h1.4v1.4h-1.4zM644.3,1661.4h1.5v1.5h-1.5zM662.6,1661.4h1.3v1.3h-1.3zM705.3,1661.4h1.7v1.7h-1.7zM735.8,1661.4h1.6v1.6h-1.6zM741.9,1661.4h1.3v1.3h-1.3zM430.8,1667.5h1.6v1.6h-1.6zM473.5,1667.5h1.5v1.5h-1.5zM497.9,1667.5h1.2v1.2h-1.2zM516.2,1667.5h1.0v1.0h-1.0zM528.4,1667.5h1.4v1.4h-1.4zM571.1,1667.5h1.3v1.3h-1.3zM607.7,1667.5h1.4v1.4h-1.4zM638.2,1667.5h1.3v1.3h-1.3zM656.5,1667.5h1.1v1.1h-1.1zM687.0,1667.5h1.5v1.5h-1.5zM473.5,1673.6h1.3v1.3h-1.3zM497.9,1673.6h1.2v1.2h-1.2zM522.3,1673.6h1.1v1.1h-1.1zM571.1,1673.6h1.6v1.6h-1.6zM595.5,1673.6h1.0v1.0h-1.0zM601.6,1673.6h1.6v1.6h-1.6zM699.2,1673.6h1.0v1.0h-1.0zM705.3,1673.6h1.5v1.5h-1.5zM723.6,1673.6h1.4v1.4h-1.4zM760.2,1673.6h1.1v1.1h-1.1zM772.4,1673.6h1.7v1.7h-1.7zM436.9,1679.7h1.6v1.6h-1.6zM491.8,1679.7h1.0v1.0h-1.0zM510.1,1679.7h1.8v1.8h-1.8zM522.3,1679.7h1.0v1.0h-1.0zM534.5,1679.7h1.8v1.8h-1.8zM583.3,1679.7h1.6v1.6h-1.6zM601.6,1679.7h1.6v1.6h-1.6zM626.0,1679.7h1.5v1.5h-1.5zM699.2,1679.7h1.5v1.5h-1.5zM723.6,1679.7h1.3v1.3h-1.3zM772.4,1679.7h1.7v1.7h-1.7zM424.7,1685.8h1.0v1.0h-1.0zM436.9,1685.8h1.7v1.7h-1.7zM491.8,1685.8h1.4v1.4h-1.4zM497.9,1685.8h1.1v1.1h-1.1zM510.1,1685.8h1.7v1.7h-1.7zM522.3,1685.8h1.3v1.3h-1.3zM540.6,1685.8h1.3v1.3h-1.3zM583.3,1685.8h1.1v1.1h-1.1zM595.5,1685.8h1.4v1.4h-1.4zM674.8,1685.8h1.3v1.3h-1.3zM693.1,1685.8h1.5v1.5h-1.5zM699.2,1685.8h1.2v1.2h-1.2zM723.6,1685.8h1.6v1.6h-1.6zM412.5,1691.9h1.6v1.6h-1.6zM455.2,1691.9h1.5v1.5h-1.5zM558.9,1691.9h1.1v1.1h-1.1zM607.7,1691.9h1.5v1.5h-1.5zM693.1,1691.9h1.3v1.3h-1.3zM778.5,1691.9h1.6v1.6h-1.6zM485.7,1698.0h1.2v1.2h-1.2zM510.1,1698.0h1.4v1.4h-1.4zM546.7,1698.0h1.8v1.8h-1.8zM552.8,1698.0h1.3v1.3h-1.3zM577.2,1698.0h1.0v1.0h-1.0zM595.5,1698.0h1.2v1.2h-1.2zM601.6,1698.0h1.4v1.4h-1.4zM613.8,1698.0h1.6v1.6h-1.6zM638.2,1698.0h1.5v1.5h-1.5zM644.3,1698.0h1.6v1.6h-1.6zM668.7,1698.0h1.7v1.7h-1.7zM687.0,1698.0h1.7v1.7h-1.7zM699.2,1698.0h1.6v1.6h-1.6zM723.6,1698.0h1.7v1.7h-1.7zM741.9,1698.0h1.5v1.5h-1.5zM766.3,1698.0h1.7v1.7h-1.7zM772.4,1698.0h1.5v1.5h-1.5zM412.5,1704.1h1.7v1.7h-1.7zM430.8,1704.1h1.0v1.0h-1.0zM443.0,1704.1h1.4v1.4h-1.4zM449.1,1704.1h1.6v1.6h-1.6zM461.3,1704.1h1.7v1.7h-1.7zM497.9,1704.1h1.7v1.7h-1.7zM510.1,1704.1h1.1v1.1h-1.1zM522.3,1704.1h1.7v1.7h-1.7zM546.7,1704.1h1.3v1.3h-1.3zM552.8,1704.1h1.6v1.6h-1.6zM589.4,1704.1h1.5v1.5h-1.5zM595.5,1704.1h1.3v1.3h-1.3zM601.6,1704.1h1.1v1.1h-1.1zM619.9,1704.1h1.1v1.1h-1.1zM638.2,1704.1h1.4v1.4h-1.4zM656.5,1704.1h1.2v1.2h-1.2zM662.6,1704.1h1.1v1.1h-1.1zM687.0,1704.1h1.8v1.8h-1.8zM699.2,1704.1h1.6v1.6h-1.6zM705.3,1704.1h1.0v1.0h-1.0zM717.5,1704.1h1.7v1.7h-1.7zM766.3,1704.1h1.6v1.6h-1.6zM778.5,1704.1h1.8v1.8h-1.8zM412.5,1710.2h1.1v1.1h-1.1zM430.8,1710.2h1.3v1.3h-1.3zM436.9,1710.2h1.2v1.2h-1.2zM510.1,1710.2h1.6v1.6h-1.6zM607.7,1710.2h1.7v1.7h-1.7zM613.8,1710.2h1.4v1.4h-1.4zM705.3,1710.2h1.4v1.4h-1.4zM711.4,1710.2h1.6v1.6h-1.6zM418.6,1716.3h1.5v1.5h-1.5zM485.7,1716.3h1.7v1.7h-1.7zM504.0,1716.3h1.6v1.6h-1.6zM552.8,1716.3h1.5v1.5h-1.5zM601.6,1716.3h1.8v1.8h-1.8zM656.5,1716.3h1.3v1.3h-1.3zM693.1,1716.3h1.6v1.6h-1.6zM430.8,1722.4h1.6v1.6h-1.6zM436.9,1722.4h1.0v1.0h-1.0zM467.4,1722.4h1.3v1.3h-1.3zM473.5,1722.4h1.2v1.2h-1.2zM479.6,1722.4h1.8v1.8h-1.8zM485.7,1722.4h1.7v1.7h-1.7zM577.2,1722.4h1.6v1.6h-1.6zM595.5,1722.4h1.8v1.8h-1.8zM729.7,1722.4h1.3v1.3h-1.3zM504.0,1728.5h1.2v1.2h-1.2zM534.5,1728.5h1.7v1.7h-1.7zM540.6,1728.5h1.5v1.5h-1.5zM565.0,1728.5h1.7v1.7h-1.7zM571.1,1728.5h1.5v1.5h-1.5zM577.2,1728.5h1.5v1.5h-1.5zM613.8,1728.5h1.6v1.6h-1.6zM693.1,1728.5h1.4v1.4h-1.4zM723.6,1728.5h1.2v1.2h-1.2zM436.9,1734.6h1.2v1.2h-1.2zM485.7,1734.6h1.1v1.1h-1.1zM504.0,1734.6h1.1v1.1h-1.1zM510.1,1734.6h1.6v1.6h-1.6zM607.7,1734.6h1.0v1.0h-1.0zM693.1,1734.6h1.5v1.5h-1.5zM723.6,1734.6h1.6v1.6h-1.6zM467.4,1740.7h1.0v1.0h-1.0zM510.1,1740.7h1.1v1.1h-1.1zM528.4,1740.7h1.6v1.6h-1.6zM595.5,1740.7h1.3v1.3h-1.3zM619.9,1740.7h1.5v1.5h-1.5zM656.5,1740.7h1.3v1.3h-1.3zM680.9,1740.7h1.1v1.1h-1.1zM412.5,1746.8h1.8v1.8h-1.8zM497.9,1746.8h1.3v1.3h-1.3zM534.5,1746.8h1.7v1.7h-1.7zM595.5,1746.8h1.2v1.2h-1.2zM668.7,1746.8h1.6v1.6h-1.6zM723.6,1746.8h1.1v1.1h-1.1zM735.8,1746.8h1.1v1.1h-1.1zM772.4,1746.8h1.2v1.2h-1.2zM424.7,1752.9h1.7v1.7h-1.7zM436.9,1752.9h1.7v1.7h-1.7zM461.3,1752.9h1.0v1.0h-1.0zM485.7,1752.9h1.1v1.1h-1.1zM504.0,1752.9h1.1v1.1h-1.1zM516.2,1752.9h1.8v1.8h-1.8zM528.4,1752.9h1.6v1.6h-1.6zM558.9,1752.9h1.2v1.2h-1.2zM601.6,1752.9h1.0v1.0h-1.0zM613.8,1752.9h1.1v1.1h-1.1zM638.2,1752.9h1.1v1.1h-1.1zM729.7,1752.9h1.4v1.4h-1.4zM735.8,1752.9h1.5v1.5h-1.5zM741.9,1752.9h1.8v1.8h-1.8zM443.0,1759.0h1.7v1.7h-1.7zM455.2,1759.0h1.2v1.2h-1.2zM497.9,1759.0h1.8v1.8h-1.8zM546.7,1759.0h1.8v1.8h-1.8zM558.9,1759.0h1.5v1.5h-1.5zM571.1,1759.0h1.5v1.5h-1.5zM595.5,1759.0h1.2v1.2h-1.2zM626.0,1759.0h1.2v1.2h-1.2zM693.1,1759.0h1.7v1.7h-1.7zM699.2,1759.0h1.2v1.2h-1.2zM424.7,1765.1h1.6v1.6h-1.6zM497.9,1765.1h1.8v1.8h-1.8zM510.1,1765.1h1.6v1.6h-1.6zM528.4,1765.1h1.2v1.2h-1.2zM534.5,1765.1h1.0v1.0h-1.0zM565.0,1765.1h1.6v1.6h-1.6zM571.1,1765.1h1.4v1.4h-1.4zM626.0,1765.1h1.6v1.6h-1.6zM668.7,1765.1h1.1v1.1h-1.1zM687.0,1765.1h1.2v1.2h-1.2zM723.6,1765.1h1.4v1.4h-1.4zM748.0,1765.1h1.1v1.1h-1.1zM766.3,1765.1h1.4v1.4h-1.4zM436.9,1771.2h1.5v1.5h-1.5zM479.6,1771.2h1.5v1.5h-1.5zM497.9,1771.2h1.6v1.6h-1.6zM528.4,1771.2h1.5v1.5h-1.5zM571.1,1771.2h1.6v1.6h-1.6zM595.5,1771.2h1.2v1.2h-1.2zM638.2,1771.2h1.1v1.1h-1.1zM754.1,1771.2h1.3v1.3h-1.3zM772.4,1771.2h1.1v1.1h-1.1zM430.8,1777.3h1.3v1.3h-1.3zM504.0,1777.3h1.7v1.7h-1.7zM510.1,1777.3h1.2v1.2h-1.2zM522.3,1777.3h1.7v1.7h-1.7zM528.4,1777.3h1.6v1.6h-1.6zM595.5,1777.3h1.3v1.3h-1.3zM601.6,1777.3h1.1v1.1h-1.1zM680.9,1777.3h1.5v1.5h-1.5zM693.1,1777.3h1.4v1.4h-1.4zM424.7,1783.4h1.3v1.3h-1.3zM430.8,1783.4h1.3v1.3h-1.3zM455.2,1783.4h1.4v1.4h-1.4zM583.3,1783.4h1.7v1.7h-1.7zM595.5,1783.4h1.6v1.6h-1.6zM680.9,1783.4h1.6v1.6h-1.6zM430.8,1789.5h1.5v1.5h-1.5zM443.0,1789.5h1.1v1.1h-1.1zM497.9,1789.5h1.8v1.8h-1.8zM510.1,1789.5h1.1v1.1h-1.1zM516.2,1789.5h1.8v1.8h-1.8zM528.4,1789.5h1.2v1.2h-1.2zM534.5,1789.5h1.5v1.5h-1.5zM540.6,1789.5h1.2v1.2h-1.2zM552.8,1789.5h1.4v1.4h-1.4zM583.3,1789.5h1.5v1.5h-1.5zM595.5,1789.5h1.3v1.3h-1.3zM632.1,1789.5h1.3v1.3h-1.3zM693.1,1789.5h1.1v1.1h-1.1zM699.2,1789.5h1.6v1.6h-1.6zM705.3,1789.5h1.4v1.4h-1.4zM711.4,1789.5h1.7v1.7h-1.7zM754.1,1789.5h1.3v1.3h-1.3zM772.4,1789.5h1.6v1.6h-1.6zM412.5,1795.6h1.2v1.2h-1.2zM449.1,1795.6h1.7v1.7h-1.7zM485.7,1795.6h1.0v1.0h-1.0zM497.9,1795.6h1.1v1.1h-1.1zM510.1,1795.6h1.8v1.8h-1.8zM516.2,1795.6h1.2v1.2h-1.2zM540.6,1795.6h1.1v1.1h-1.1zM546.7,1795.6h1.6v1.6h-1.6zM595.5,1795.6h1.4v1.4h-1.4zM619.9,1795.6h1.6v1.6h-1.6zM662.6,1795.6h1.3v1.3h-1.3zM705.3,1795.6h1.5v1.5h-1.5zM723.6,1795.6h1.7v1.7h-1.7zM772.4,1795.6h1.6v1.6h-1.6zM412.5,1801.7h1.6v1.6h-1.6zM436.9,1801.7h1.5v1.5h-1.5zM467.4,1801.7h1.7v1.7h-1.7zM485.7,1801.7h1.5v1.5h-1.5zM497.9,1801.7h1.6v1.6h-1.6zM504.0,1801.7h1.3v1.3h-1.3zM510.1,1801.7h1.0v1.0h-1.0zM522.3,1801.7h1.4v1.4h-1.4zM540.6,1801.7h1.7v1.7h-1.7zM546.7,1801.7h1.7v1.7h-1.7zM552.8,1801.7h1.4v1.4h-1.4zM558.9,1801.7h1.7v1.7h-1.7zM571.1,1801.7h1.7v1.7h-1.7zM601.6,1801.7h1.4v1.4h-1.4zM644.3,1801.7h1.1v1.1h-1.1zM680.9,1801.7h1.7v1.7h-1.7zM705.3,1801.7h1.4v1.4h-1.4zM711.4,1801.7h1.2v1.2h-1.2zM760.2,1801.7h1.5v1.5h-1.5zM772.4,1801.7h1.8v1.8h-1.8zM778.5,1801.7h1.4v1.4h-1.4zM455.2,1807.8h1.0v1.0h-1.0zM497.9,1807.8h1.2v1.2h-1.2zM510.1,1807.8h1.7v1.7h-1.7zM558.9,1807.8h1.6v1.6h-1.6zM607.7,1807.8h1.7v1.7h-1.7zM613.8,1807.8h1.1v1.1h-1.1zM668.7,1807.8h1.0v1.0h-1.0zM687.0,1807.8h1.7v1.7h-1.7zM693.1,1807.8h1.4v1.4h-1.4zM699.2,1807.8h1.6v1.6h-1.6zM748.0,1807.8h1.1v1.1h-1.1zM754.1,1807.8h1.5v1.5h-1.5zM778.5,1807.8h1.1v1.1h-1.1zM436.9,1813.9h1.0v1.0h-1.0zM455.2,1813.9h1.5v1.5h-1.5zM485.7,1813.9h1.5v1.5h-1.5zM497.9,1813.9h1.7v1.7h-1.7zM504.0,1813.9h1.3v1.3h-1.3zM522.3,1813.9h1.5v1.5h-1.5zM565.0,1813.9h1.4v1.4h-1.4zM607.7,1813.9h1.4v1.4h-1.4zM644.3,1813.9h1.3v1.3h-1.3zM748.0,1813.9h1.0v1.0h-1.0zM436.9,1820.0h1.4v1.4h-1.4zM595.5,1820.0h1.2v1.2h-1.2zM650.4,1820.0h1.3v1.3h-1.3zM766.3,1820.0h1.1v1.1h-1.1zM436.9,1826.1h1.6v1.6h-1.6zM443.0,1826.1h1.7v1.7h-1.7zM467.4,1826.1h1.3v1.3h-1.3zM540.6,1826.1h1.2v1.2h-1.2zM565.0,1826.1h1.8v1.8h-1.8zM601.6,1826.1h1.6v1.6h-1.6zM613.8,1826.1h1.3v1.3h-1.3zM674.8,1826.1h1.4v1.4h-1.4zM680.9,1826.1h1.1v1.1h-1.1zM729.7,1826.1h1.4v1.4h-1.4zM418.6,1832.2h1.8v1.8h-1.8zM497.9,1832.2h1.7v1.7h-1.7zM565.0,1832.2h1.5v1.5h-1.5zM687.0,1832.2h1.5v1.5h-1.5zM741.9,1832.2h1.7v1.7h-1.7zM418.6,1838.3h1.3v1.3h-1.3zM424.7,1838.3h1.5v1.5h-1.5zM430.8,1838.3h1.2v1.2h-1.2zM522.3,1838.3h1.6v1.6h-1.6zM558.9,1838.3h1.6v1.6h-1.6zM656.5,1838.3h1.7v1.7h-1.7zM735.8,1838.3h1.6v1.6h-1.6zM455.2,1844.4h1.1v1.1h-1.1zM510.1,1844.4h1.7v1.7h-1.7zM558.9,1844.4h1.4v1.4h-1.4zM601.6,1844.4h1.2v1.2h-1.2zM607.7,1844.4h1.1v1.1h-1.1zM650.4,1844.4h1.2v1.2h-1.2zM680.9,1844.4h1.6v1.6h-1.6zM693.1,1844.4h1.2v1.2h-1.2zM479.6,1850.5h1.4v1.4h-1.4zM497.9,1850.5h1.5v1.5h-1.5zM516.2,1850.5h1.6v1.6h-1.6zM528.4,1850.5h1.6v1.6h-1.6zM558.9,1850.5h1.4v1.4h-1.4zM601.6,1850.5h1.6v1.6h-1.6zM607.7,1850.5h1.0v1.0h-1.0zM662.6,1850.5h1.4v1.4h-1.4zM693.1,1850.5h1.7v1.7h-1.7zM699.2,1850.5h1.6v1.6h-1.6zM723.6,1850.5h1.1v1.1h-1.1zM729.7,1850.5h1.1v1.1h-1.1zM778.5,1850.5h1.6v1.6h-1.6zM467.4,1856.6h1.3v1.3h-1.3zM497.9,1856.6h1.6v1.6h-1.6zM607.7,1856.6h1.7v1.7h-1.7zM644.3,1856.6h1.5v1.5h-1.5zM479.6,1862.7h1.7v1.7h-1.7zM497.9,1862.7h1.3v1.3h-1.3zM504.0,1862.7h1.3v1.3h-1.3zM522.3,1862.7h1.8v1.8h-1.8zM528.4,1862.7h1.0v1.0h-1.0zM589.4,1862.7h1.7v1.7h-1.7zM626.0,1862.7h1.4v1.4h-1.4zM693.1,1862.7h1.7v1.7h-1.7zM473.5,1868.8h1.4v1.4h-1.4zM510.1,1868.8h1.2v1.2h-1.2zM565.0,1868.8h1.1v1.1h-1.1zM613.8,1868.8h1.3v1.3h-1.3zM626.0,1868.8h1.4v1.4h-1.4zM693.1,1868.8h1.5v1.5h-1.5zM436.9,1874.9h1.6v1.6h-1.6zM510.1,1874.9h1.4v1.4h-1.4zM516.2,1874.9h1.6v1.6h-1.6zM540.6,1874.9h1.2v1.2h-1.2zM583.3,1874.9h1.3v1.3h-1.3zM772.4,1874.9h1.6v1.6h-1.6zM436.9,1881.0h1.3v1.3h-1.3zM473.5,1881.0h1.3v1.3h-1.3zM491.8,1881.0h1.3v1.3h-1.3zM699.2,1881.0h1.8v1.8h-1.8zM772.4,1881.0h1.8v1.8h-1.8z" fill="#fff" fill-opacity="0.85" stroke="none"/><path d="M412.5,1515.0h1.1v1.1h-1.1zM449.1,1515.0h1.2v1.2h-1.2zM497.9,1515.0h1.5v1.5h-1.5zM510.1,1515.0h1.2v1.2h-1.2zM558.9,1515.0h1.5v1.5h-1.5zM589.4,1515.0h1.3v1.3h-1.3zM601.6,1515.0h1.6v1.6h-1.6zM668.7,1515.0h1.6v1.6h-1.6zM687.0,1515.0h1.3v1.3h-1.3zM699.2,1515.0h1.0v1.0h-1.0zM717.5,1515.0h1.4v1.4h-1.4zM461.3,1521.1h1.7v1.7h-1.7zM516.2,1521.1h1.7v1.7h-1.7zM534.5,1521.1h1.7v1.7h-1.7zM571.1,1521.1h1.0v1.0h-1.0zM613.8,1521.1h1.6v1.6h-1.6zM632.1,1521.1h1.6v1.6h-1.6zM687.0,1521.1h1.6v1.6h-1.6zM693.1,1521.1h1.7v1.7h-1.7zM711.4,1521.1h1.2v1.2h-1.2zM748.0,1521.1h1.5v1.5h-1.5zM430.8,1527.2h1.3v1.3h-1.3zM461.3,1527.2h1.7v1.7h-1.7zM485.7,1527.2h1.0v1.0h-1.0zM601.6,1527.2h1.6v1.6h-1.6zM607.7,1527.2h1.4v1.4h-1.4zM778.5,1527.2h1.6v1.6h-1.6zM412.5,1533.3h1.7v1.7h-1.7zM424.7,1533.3h1.8v1.8h-1.8zM430.8,1533.3h1.3v1.3h-1.3zM455.2,1533.3h1.3v1.3h-1.3zM467.4,1533.3h1.8v1.8h-1.8zM510.1,1533.3h1.1v1.1h-1.1zM528.4,1533.3h1.0v1.0h-1.0zM540.6,1533.3h1.8v1.8h-1.8zM632.1,1533.3h1.6v1.6h-1.6zM638.2,1533.3h1.4v1.4h-1.4zM717.5,1533.3h1.1v1.1h-1.1zM497.9,1539.4h1.3v1.3h-1.3zM504.0,1539.4h1.6v1.6h-1.6zM510.1,1539.4h1.7v1.7h-1.7zM534.5,1539.4h1.4v1.4h-1.4zM595.5,1539.4h1.7v1.7h-1.7zM626.0,1539.4h1.6v1.6h-1.6zM656.5,1539.4h1.2v1.2h-1.2zM662.6,1539.4h1.6v1.6h-1.6zM729.7,1539.4h1.2v1.2h-1.2zM418.6,1545.5h1.4v1.4h-1.4zM436.9,1545.5h1.2v1.2h-1.2zM461.3,1545.5h1.7v1.7h-1.7zM522.3,1545.5h1.7v1.7h-1.7zM601.6,1545.5h1.8v1.8h-1.8zM662.6,1545.5h1.0v1.0h-1.0zM729.7,1545.5h1.7v1.7h-1.7zM436.9,1551.6h1.2v1.2h-1.2zM443.0,1551.6h1.4v1.4h-1.4zM461.3,1551.6h1.4v1.4h-1.4zM479.6,1551.6h1.0v1.0h-1.0zM504.0,1551.6h1.3v1.3h-1.3zM619.9,1551.6h1.1v1.1h-1.1zM644.3,1551.6h1.4v1.4h-1.4zM748.0,1551.6h1.6v1.6h-1.6zM412.5,1557.7h1.2v1.2h-1.2zM461.3,1557.7h1.7v1.7h-1.7zM491.8,1557.7h1.7v1.7h-1.7zM595.5,1557.7h1.6v1.6h-1.6zM601.6,1557.7h1.2v1.2h-1.2zM638.2,1557.7h1.6v1.6h-1.6zM735.8,1557.7h1.3v1.3h-1.3zM741.9,1557.7h1.2v1.2h-1.2zM436.9,1563.8h1.3v1.3h-1.3zM497.9,1563.8h1.7v1.7h-1.7zM504.0,1563.8h1.3v1.3h-1.3zM510.1,1563.8h1.2v1.2h-1.2zM528.4,1563.8h1.4v1.4h-1.4zM552.8,1563.8h1.8v1.8h-1.8zM601.6,1563.8h1.5v1.5h-1.5zM613.8,1563.8h1.2v1.2h-1.2zM674.8,1563.8h1.1v1.1h-1.1zM772.4,1563.8h1.0v1.0h-1.0zM430.8,1569.9h1.2v1.2h-1.2zM443.0,1569.9h1.4v1.4h-1.4zM455.2,1569.9h1.1v1.1h-1.1zM467.4,1569.9h1.0v1.0h-1.0zM473.5,1569.9h1.7v1.7h-1.7zM528.4,1569.9h1.2v1.2h-1.2zM540.6,1569.9h1.4v1.4h-1.4zM705.3,1569.9h1.7v1.7h-1.7zM754.1,1569.9h1.6v1.6h-1.6zM760.2,1569.9h1.3v1.3h-1.3zM778.5,1569.9h1.4v1.4h-1.4zM412.5,1576.0h1.2v1.2h-1.2zM497.9,1576.0h1.8v1.8h-1.8zM534.5,1576.0h1.1v1.1h-1.1zM595.5,1576.0h1.2v1.2h-1.2zM638.2,1576.0h1.1v1.1h-1.1zM662.6,1576.0h1.0v1.0h-1.0zM723.6,1576.0h1.0v1.0h-1.0zM729.7,1576.0h1.4v1.4h-1.4zM735.8,1576.0h1.2v1.2h-1.2zM766.3,1576.0h1.7v1.7h-1.7zM778.5,1576.0h1.7v1.7h-1.7zM436.9,1582.1h1.3v1.3h-1.3zM479.6,1582.1h1.5v1.5h-1.5zM491.8,1582.1h1.2v1.2h-1.2zM516.2,1582.1h1.7v1.7h-1.7zM674.8,1582.1h1.7v1.7h-1.7zM693.1,1582.1h1.7v1.7h-1.7zM760.2,1582.1h1.3v1.3h-1.3zM424.7,1588.2h1.6v1.6h-1.6zM546.7,1588.2h1.2v1.2h-1.2zM632.1,1588.2h1.4v1.4h-1.4zM644.3,1588.2h1.4v1.4h-1.4zM656.5,1588.2h1.2v1.2h-1.2zM680.9,1588.2h1.2v1.2h-1.2zM699.2,1588.2h1.8v1.8h-1.8zM735.8,1588.2h1.3v1.3h-1.3zM436.9,1594.3h1.6v1.6h-1.6zM491.8,1594.3h1.3v1.3h-1.3zM504.0,1594.3h1.4v1.4h-1.4zM510.1,1594.3h1.5v1.5h-1.5zM516.2,1594.3h1.5v1.5h-1.5zM522.3,1594.3h1.4v1.4h-1.4zM552.8,1594.3h1.5v1.5h-1.5zM443.0,1600.4h1.3v1.3h-1.3zM455.2,1600.4h1.7v1.7h-1.7zM461.3,1600.4h1.7v1.7h-1.7zM473.5,1600.4h1.7v1.7h-1.7zM479.6,1600.4h1.0v1.0h-1.0zM504.0,1600.4h1.7v1.7h-1.7zM510.1,1600.4h1.7v1.7h-1.7zM546.7,1600.4h1.6v1.6h-1.6zM558.9,1600.4h1.7v1.7h-1.7zM601.6,1600.4h1.5v1.5h-1.5zM607.7,1600.4h1.3v1.3h-1.3zM613.8,1600.4h1.5v1.5h-1.5zM619.9,1600.4h1.5v1.5h-1.5zM632.1,1600.4h1.8v1.8h-1.8zM662.6,1600.4h1.4v1.4h-1.4zM693.1,1600.4h1.2v1.2h-1.2zM699.2,1600.4h1.5v1.5h-1.5zM729.7,1600.4h1.6v1.6h-1.6zM748.0,1600.4h1.7v1.7h-1.7zM778.5,1600.4h1.5v1.5h-1.5zM430.8,1606.5h1.0v1.0h-1.0zM449.1,1606.5h1.7v1.7h-1.7zM485.7,1606.5h1.6v1.6h-1.6zM504.0,1606.5h1.8v1.8h-1.8zM558.9,1606.5h1.0v1.0h-1.0zM583.3,1606.5h1.5v1.5h-1.5zM601.6,1606.5h1.5v1.5h-1.5zM607.7,1606.5h1.2v1.2h-1.2zM619.9,1606.5h1.3v1.3h-1.3zM638.2,1606.5h1.5v1.5h-1.5zM644.3,1606.5h1.3v1.3h-1.3zM668.7,1606.5h1.0v1.0h-1.0zM687.0,1606.5h1.5v1.5h-1.5zM735.8,1606.5h1.5v1.5h-1.5zM748.0,1606.5h1.7v1.7h-1.7zM766.3,1606.5h1.7v1.7h-1.7zM412.5,1612.6h1.1v1.1h-1.1zM424.7,1612.6h1.6v1.6h-1.6zM430.8,1612.6h1.5v1.5h-1.5zM455.2,1612.6h1.1v1.1h-1.1zM467.4,1612.6h1.5v1.5h-1.5zM479.6,1612.6h1.4v1.4h-1.4zM534.5,1612.6h1.8v1.8h-1.8zM552.8,1612.6h1.8v1.8h-1.8zM595.5,1612.6h1.8v1.8h-1.8zM662.6,1612.6h1.7v1.7h-1.7zM674.8,1612.6h1.6v1.6h-1.6zM693.1,1612.6h1.1v1.1h-1.1zM418.6,1618.7h1.3v1.3h-1.3zM430.8,1618.7h1.0v1.0h-1.0zM455.2,1618.7h1.2v1.2h-1.2zM528.4,1618.7h1.2v1.2h-1.2zM552.8,1618.7h1.0v1.0h-1.0zM565.0,1618.7h1.3v1.3h-1.3zM577.2,1618.7h1.6v1.6h-1.6zM607.7,1618.7h1.6v1.6h-1.6zM613.8,1618.7h1.1v1.1h-1.1zM680.9,1618.7h1.3v1.3h-1.3zM699.2,1618.7h1.6v1.6h-1.6zM723.6,1618.7h1.7v1.7h-1.7zM766.3,1618.7h1.2v1.2h-1.2zM772.4,1618.7h1.1v1.1h-1.1zM778.5,1618.7h1.0v1.0h-1.0zM430.8,1624.8h1.7v1.7h-1.7zM473.5,1624.8h1.5v1.5h-1.5zM479.6,1624.8h1.7v1.7h-1.7zM485.7,1624.8h1.3v1.3h-1.3zM497.9,1624.8h1.8v1.8h-1.8zM510.1,1624.8h1.8v1.8h-1.8zM534.5,1624.8h1.4v1.4h-1.4zM577.2,1624.8h1.3v1.3h-1.3zM583.3,1624.8h1.1v1.1h-1.1zM717.5,1624.8h1.4v1.4h-1.4zM754.1,1624.8h1.4v1.4h-1.4zM455.2,1630.9h1.3v1.3h-1.3zM504.0,1630.9h1.2v1.2h-1.2zM699.2,1630.9h1.3v1.3h-1.3zM766.3,1630.9h1.3v1.3h-1.3zM772.4,1630.9h1.0v1.0h-1.0zM473.5,1637.0h1.8v1.8h-1.8zM540.6,1637.0h1.4v1.4h-1.4zM546.7,1637.0h1.3v1.3h-1.3zM565.0,1637.0h1.7v1.7h-1.7zM595.5,1637.0h1.2v1.2h-1.2zM638.2,1637.0h1.3v1.3h-1.3zM656.5,1637.0h1.2v1.2h-1.2zM693.1,1637.0h1.5v1.5h-1.5zM717.5,1637.0h1.1v1.1h-1.1zM754.1,1637.0h1.0v1.0h-1.0zM430.8,1643.1h1.7v1.7h-1.7zM449.1,1643.1h1.7v1.7h-1.7zM473.5,1643.1h1.5v1.5h-1.5zM558.9,1643.1h1.1v1.1h-1.1zM601.6,1643.1h1.7v1.7h-1.7zM607.7,1643.1h1.3v1.3h-1.3zM754.1,1643.1h1.1v1.1h-1.1zM516.2,1649.2h1.1v1.1h-1.1zM546.7,1649.2h1.2v1.2h-1.2zM552.8,1649.2h1.7v1.7h-1.7zM589.4,1649.2h1.7v1.7h-1.7zM595.5,1649.2h1.0v1.0h-1.0zM656.5,1649.2h1.1v1.1h-1.1zM699.2,1649.2h1.0v1.0h-1.0zM741.9,1649.2h1.4v1.4h-1.4zM412.5,1655.3h1.6v1.6h-1.6zM418.6,1655.3h1.2v1.2h-1.2zM479.6,1655.3h1.5v1.5h-1.5zM552.8,1655.3h1.6v1.6h-1.6zM613.8,1655.3h1.6v1.6h-1.6zM626.0,1655.3h1.5v1.5h-1.5zM638.2,1655.3h1.6v1.6h-1.6zM650.4,1655.3h1.1v1.1h-1.1zM693.1,1655.3h1.5v1.5h-1.5zM735.8,1655.3h1.2v1.2h-1.2zM778.5,1655.3h1.7v1.7h-1.7zM540.6,1661.4h1.5v1.5h-1.5zM546.7,1661.4h1.5v1.5h-1.5zM565.0,1661.4h1.3v1.3h-1.3zM571.1,1661.4h1.2v1.2h-1.2zM595.5,1661.4h1.4v1.4h-1.4zM699.2,1661.4h1.8v1.8h-1.8zM754.1,1661.4h1.2v1.2h-1.2zM455.2,1667.5h1.3v1.3h-1.3zM491.8,1667.5h1.7v1.7h-1.7zM540.6,1667.5h1.1v1.1h-1.1zM595.5,1667.5h1.1v1.1h-1.1zM693.1,1667.5h1.4v1.4h-1.4zM699.2,1667.5h1.1v1.1h-1.1zM723.6,1667.5h1.5v1.5h-1.5zM741.9,1667.5h1.4v1.4h-1.4zM436.9,1673.6h1.6v1.6h-1.6zM504.0,1673.6h1.0v1.0h-1.0zM510.1,1673.6h1.4v1.4h-1.4zM528.4,1673.6h1.6v1.6h-1.6zM558.9,1673.6h1.1v1.1h-1.1zM583.3,1673.6h1.4v1.4h-1.4zM607.7,1673.6h1.2v1.2h-1.2zM626.0,1673.6h1.6v1.6h-1.6zM638.2,1673.6h1.6v1.6h-1.6zM650.4,1673.6h1.2v1.2h-1.2zM674.8,1673.6h1.3v1.3h-1.3zM748.0,1673.6h1.5v1.5h-1.5zM485.7,1679.7h1.4v1.4h-1.4zM528.4,1679.7h1.4v1.4h-1.4zM540.6,1679.7h1.1v1.1h-1.1zM552.8,1679.7h1.0v1.0h-1.0zM674.8,1679.7h1.2v1.2h-1.2zM717.5,1679.7h1.6v1.6h-1.6zM418.6,1685.8h1.7v1.7h-1.7zM449.1,1685.8h1.1v1.1h-1.1zM455.2,1685.8h1.3v1.3h-1.3zM479.6,1685.8h1.2v1.2h-1.2zM534.5,1685.8h1.6v1.6h-1.6zM589.4,1685.8h1.0v1.0h-1.0zM601.6,1685.8h1.6v1.6h-1.6zM687.0,1685.8h1.5v1.5h-1.5zM754.1,1685.8h1.6v1.6h-1.6zM778.5,1685.8h1.5v1.5h-1.5zM491.8,1691.9h1.1v1.1h-1.1zM497.9,1691.9h1.4v1.4h-1.4zM510.1,1691.9h1.1v1.1h-1.1zM546.7,1691.9h1.3v1.3h-1.3zM565.0,1691.9h1.3v1.3h-1.3zM583.3,1691.9h1.3v1.3h-1.3zM595.5,1691.9h1.4v1.4h-1.4zM644.3,1691.9h1.2v1.2h-1.2zM650.4,1691.9h1.1v1.1h-1.1zM680.9,1691.9h1.5v1.5h-1.5zM687.0,1691.9h1.3v1.3h-1.3zM699.2,1691.9h1.3v1.3h-1.3zM705.3,1691.9h1.3v1.3h-1.3zM412.5,1698.0h1.4v1.4h-1.4zM418.6,1698.0h1.0v1.0h-1.0zM424.7,1698.0h1.4v1.4h-1.4zM430.8,1698.0h1.4v1.4h-1.4zM436.9,1698.0h1.4v1.4h-1.4zM461.3,1698.0h1.0v1.0h-1.0zM497.9,1698.0h1.1v1.1h-1.1zM504.0,1698.0h1.0v1.0h-1.0zM522.3,1698.0h1.5v1.5h-1.5zM540.6,1698.0h1.3v1.3h-1.3zM607.7,1698.0h1.4v1.4h-1.4zM632.1,1698.0h1.3v1.3h-1.3zM680.9,1698.0h1.3v1.3h-1.3zM693.1,1698.0h1.1v1.1h-1.1zM717.5,1698.0h1.2v1.2h-1.2zM729.7,1698.0h1.1v1.1h-1.1zM760.2,1698.0h1.0v1.0h-1.0zM424.7,1704.1h1.6v1.6h-1.6zM491.8,1704.1h1.3v1.3h-1.3zM504.0,1704.1h1.7v1.7h-1.7zM516.2,1704.1h1.7v1.7h-1.7zM540.6,1704.1h1.8v1.8h-1.8zM565.0,1704.1h1.1v1.1h-1.1zM571.1,1704.1h1.4v1.4h-1.4zM583.3,1704.1h1.0v1.0h-1.0zM607.7,1704.1h1.3v1.3h-1.3zM632.1,1704.1h1.4v1.4h-1.4zM693.1,1704.1h1.5v1.5h-1.5zM729.7,1704.1h1.5v1.5h-1.5zM741.9,1704.1h1.2v1.2h-1.2zM754.1,1704.1h1.5v1.5h-1.5zM497.9,1710.2h1.5v1.5h-1.5zM516.2,1710.2h1.8v1.8h-1.8zM528.4,1710.2h1.7v1.7h-1.7zM589.4,1710.2h1.8v1.8h-1.8zM601.6,1710.2h1.8v1.8h-1.8zM687.0,1710.2h1.5v1.5h-1.5zM693.1,1710.2h1.5v1.5h-1.5zM766.3,1710.2h1.2v1.2h-1.2zM430.8,1716.3h1.2v1.2h-1.2zM443.0,1716.3h1.7v1.7h-1.7zM497.9,1716.3h1.1v1.1h-1.1zM510.1,1716.3h1.1v1.1h-1.1zM583.3,1716.3h1.4v1.4h-1.4zM674.8,1716.3h1.5v1.5h-1.5zM680.9,1716.3h1.3v1.3h-1.3zM424.7,1722.4h1.4v1.4h-1.4zM461.3,1722.4h1.2v1.2h-1.2zM510.1,1722.4h1.1v1.1h-1.1zM601.6,1722.4h1.1v1.1h-1.1zM632.1,1722.4h1.2v1.2h-1.2zM699.2,1722.4h1.1v1.1h-1.1zM430.8,1728.5h1.5v1.5h-1.5zM479.6,1728.5h1.6v1.6h-1.6zM497.9,1728.5h1.5v1.5h-1.5zM510.1,1728.5h1.5v1.5h-1.5zM552.8,1728.5h1.4v1.4h-1.4zM632.1,1728.5h1.5v1.5h-1.5zM662.6,1728.5h1.7v1.7h-1.7zM729.7,1728.5h1.2v1.2h-1.2zM760.2,1728.5h1.2v1.2h-1.2zM467.4,1734.6h1.1v1.1h-1.1zM546.7,1734.6h1.1v1.1h-1.1zM565.0,1734.6h1.0v1.0h-1.0zM601.6,1734.6h1.6v1.6h-1.6zM626.0,1734.6h1.7v1.7h-1.7zM638.2,1734.6h1.7v1.7h-1.7zM644.3,1734.6h1.3v1.3h-1.3zM699.2,1734.6h1.4v1.4h-1.4zM754.1,1734.6h1.5v1.5h-1.5zM412.5,1740.7h1.2v1.2h-1.2zM455.2,1740.7h1.1v1.1h-1.1zM522.3,1740.7h1.8v1.8h-1.8zM540.6,1740.7h1.6v1.6h-1.6zM552.8,1740.7h1.7v1.7h-1.7zM589.4,1740.7h1.0v1.0h-1.0zM607.7,1740.7h1.7v1.7h-1.7zM632.1,1740.7h1.8v1.8h-1.8zM638.2,1740.7h1.1v1.1h-1.1zM668.7,1740.7h1.5v1.5h-1.5zM766.3,1740.7h1.5v1.5h-1.5zM449.1,1746.8h1.4v1.4h-1.4zM504.0,1746.8h1.7v1.7h-1.7zM510.1,1746.8h1.6v1.6h-1.6zM546.7,1746.8h1.4v1.4h-1.4zM552.8,1746.8h1.4v1.4h-1.4zM607.7,1746.8h1.2v1.2h-1.2zM473.5,1752.9h1.5v1.5h-1.5zM497.9,1752.9h1.5v1.5h-1.5zM546.7,1752.9h1.2v1.2h-1.2zM552.8,1752.9h1.3v1.3h-1.3zM595.5,1752.9h1.5v1.5h-1.5zM607.7,1752.9h1.4v1.4h-1.4zM662.6,1752.9h1.2v1.2h-1.2zM693.1,1752.9h1.8v1.8h-1.8zM699.2,1752.9h1.1v1.1h-1.1zM711.4,1752.9h1.2v1.2h-1.2zM748.0,1752.9h1.0v1.0h-1.0zM760.2,1752.9h1.4v1.4h-1.4zM424.7,1759.0h1.6v1.6h-1.6zM449.1,1759.0h1.5v1.5h-1.5zM467.4,1759.0h1.2v1.2h-1.2zM504.0,1759.0h1.4v1.4h-1.4zM510.1,1759.0h1.8v1.8h-1.8zM565.0,1759.0h1.1v1.1h-1.1zM607.7,1759.0h1.1v1.1h-1.1zM754.1,1759.0h1.2v1.2h-1.2zM412.5,1765.1h1.1v1.1h-1.1zM436.9,1765.1h1.4v1.4h-1.4zM443.0,1765.1h1.6v1.6h-1.6zM467.4,1765.1h1.4v1.4h-1.4zM485.7,1765.1h1.8v1.8h-1.8zM504.0,1765.1h1.8v1.8h-1.8zM552.8,1765.1h1.5v1.5h-1.5zM583.3,1765.1h1.3v1.3h-1.3zM632.1,1765.1h1.7v1.7h-1.7zM662.6,1765.1h1.4v1.4h-1.4zM705.3,1765.1h1.1v1.1h-1.1zM754.1,1765.1h1.5v1.5h-1.5zM760.2,1765.1h1.6v1.6h-1.6zM412.5,1771.2h1.1v1.1h-1.1zM430.8,1771.2h1.6v1.6h-1.6zM467.4,1771.2h1.5v1.5h-1.5zM473.5,1771.2h1.2v1.2h-1.2zM485.7,1771.2h1.3v1.3h-1.3zM504.0,1771.2h1.5v1.5h-1.5zM534.5,1771.2h1.2v1.2h-1.2zM583.3,1771.2h1.0v1.0h-1.0zM589.4,1771.2h1.7v1.7h-1.7zM668.7,1771.2h1.4v1.4h-1.4zM711.4,1771.2h1.4v1.4h-1.4zM717.5,1771.2h1.0v1.0h-1.0zM729.7,1771.2h1.4v1.4h-1.4zM741.9,1771.2h1.6v1.6h-1.6zM766.3,1771.2h1.2v1.2h-1.2zM424.7,1777.3h1.1v1.1h-1.1zM449.1,1777.3h1.2v1.2h-1.2zM485.7,1777.3h1.4v1.4h-1.4zM497.9,1777.3h1.2v1.2h-1.2zM565.0,1777.3h1.6v1.6h-1.6zM583.3,1777.3h1.7v1.7h-1.7zM760.2,1777.3h1.7v1.7h-1.7zM449.1,1783.4h1.1v1.1h-1.1zM510.1,1783.4h1.7v1.7h-1.7zM516.2,1783.4h1.5v1.5h-1.5zM601.6,1783.4h1.4v1.4h-1.4zM613.8,1783.4h1.2v1.2h-1.2zM705.3,1783.4h1.8v1.8h-1.8zM772.4,1783.4h1.4v1.4h-1.4zM418.6,1789.5h1.7v1.7h-1.7zM424.7,1789.5h1.5v1.5h-1.5zM436.9,1789.5h1.3v1.3h-1.3zM449.1,1789.5h1.6v1.6h-1.6zM455.2,1789.5h1.2v1.2h-1.2zM461.3,1789.5h1.5v1.5h-1.5zM467.4,1789.5h1.5v1.5h-1.5zM491.8,1789.5h1.7v1.7h-1.7zM504.0,1789.5h1.1v1.1h-1.1zM546.7,1789.5h1.3v1.3h-1.3zM589.4,1789.5h1.1v1.1h-1.1zM601.6,1789.5h1.3v1.3h-1.3zM607.7,1789.5h1.1v1.1h-1.1zM619.9,1789.5h1.7v1.7h-1.7zM626.0,1789.5h1.5v1.5h-1.5zM662.6,1789.5h1.3v1.3h-1.3zM687.0,1789.5h1.8v1.8h-1.8zM741.9,1789.5h1.3v1.3h-1.3zM760.2,1789.5h1.7v1.7h-1.7zM766.3,1789.5h1.3v1.3h-1.3zM778.5,1789.5h1.0v1.0h-1.0zM418.6,1795.6h1.6v1.6h-1.6zM455.2,1795.6h1.6v1.6h-1.6zM461.3,1795.6h1.1v1.1h-1.1zM491.8,1795.6h1.6v1.6h-1.6zM504.0,1795.6h1.5v1.5h-1.5zM565.0,1795.6h1.4v1.4h-1.4zM577.2,1795.6h1.7v1.7h-1.7zM583.3,1795.6h1.3v1.3h-1.3zM601.6,1795.6h1.3v1.3h-1.3zM607.7,1795.6h1.6v1.6h-1.6zM644.3,1795.6h1.8v1.8h-1.8zM699.2,1795.6h1.3v1.3h-1.3zM741.9,1795.6h1.6v1.6h-1.6zM778.5,1795.6h1.1v1.1h-1.1zM430.8,1801.7h1.4v1.4h-1.4zM443.0,1801.7h1.7v1.7h-1.7zM455.2,1801.7h1.5v1.5h-1.5zM479.6,1801.7h1.1v1.1h-1.1zM516.2,1801.7h1.7v1.7h-1.7zM595.5,1801.7h1.5v1.5h-1.5zM607.7,1801.7h1.6v1.6h-1.6zM619.9,1801.7h1.4v1.4h-1.4zM638.2,1801.7h1.5v1.5h-1.5zM662.6,1801.7h1.3v1.3h-1.3zM699.2,1801.7h1.5v1.5h-1.5zM717.5,1801.7h1.5v1.5h-1.5zM735.8,1801.7h1.8v1.8h-1.8zM418.6,1807.8h1.7v1.7h-1.7zM479.6,1807.8h1.3v1.3h-1.3zM552.8,1807.8h1.7v1.7h-1.7zM565.0,1807.8h1.3v1.3h-1.3zM601.6,1807.8h1.6v1.6h-1.6zM473.5,1813.9h1.6v1.6h-1.6zM510.1,1813.9h1.5v1.5h-1.5zM546.7,1813.9h1.1v1.1h-1.1zM595.5,1813.9h1.7v1.7h-1.7zM638.2,1813.9h1.6v1.6h-1.6zM705.3,1813.9h1.1v1.1h-1.1zM741.9,1813.9h1.3v1.3h-1.3zM766.3,1813.9h1.7v1.7h-1.7zM473.5,1820.0h1.4v1.4h-1.4zM504.0,1820.0h1.6v1.6h-1.6zM619.9,1820.0h1.6v1.6h-1.6zM693.1,1820.0h1.1v1.1h-1.1zM717.5,1820.0h1.4v1.4h-1.4zM473.5,1826.1h1.3v1.3h-1.3zM479.6,1826.1h1.5v1.5h-1.5zM491.8,1826.1h1.5v1.5h-1.5zM497.9,1826.1h1.2v1.2h-1.2zM510.1,1826.1h1.5v1.5h-1.5zM522.3,1826.1h1.3v1.3h-1.3zM595.5,1826.1h1.6v1.6h-1.6zM656.5,1826.1h1.2v1.2h-1.2zM424.7,1832.2h1.5v1.5h-1.5zM449.1,1832.2h1.3v1.3h-1.3zM467.4,1832.2h1.5v1.5h-1.5zM510.1,1832.2h1.2v1.2h-1.2zM540.6,1832.2h1.1v1.1h-1.1zM589.4,1832.2h1.4v1.4h-1.4zM595.5,1832.2h1.2v1.2h-1.2zM497.9,1838.3h1.1v1.1h-1.1zM552.8,1838.3h1.6v1.6h-1.6zM601.6,1838.3h1.6v1.6h-1.6zM699.2,1838.3h1.2v1.2h-1.2zM467.4,1844.4h1.2v1.2h-1.2zM479.6,1844.4h1.1v1.1h-1.1zM504.0,1844.4h1.4v1.4h-1.4zM516.2,1844.4h1.6v1.6h-1.6zM552.8,1844.4h1.5v1.5h-1.5zM595.5,1844.4h1.7v1.7h-1.7zM656.5,1844.4h1.1v1.1h-1.1zM741.9,1844.4h1.3v1.3h-1.3zM424.7,1850.5h1.3v1.3h-1.3zM436.9,1850.5h1.5v1.5h-1.5zM455.2,1850.5h1.2v1.2h-1.2zM467.4,1850.5h1.5v1.5h-1.5zM510.1,1850.5h1.4v1.4h-1.4zM595.5,1850.5h1.5v1.5h-1.5zM638.2,1850.5h1.1v1.1h-1.1zM668.7,1850.5h1.4v1.4h-1.4zM436.9,1856.6h1.1v1.1h-1.1zM504.0,1856.6h1.1v1.1h-1.1zM540.6,1856.6h1.8v1.8h-1.8zM668.7,1856.6h1.2v1.2h-1.2zM729.7,1856.6h1.8v1.8h-1.8zM760.2,1856.6h1.6v1.6h-1.6zM430.8,1862.7h1.3v1.3h-1.3zM455.2,1862.7h1.1v1.1h-1.1zM473.5,1862.7h1.1v1.1h-1.1zM699.2,1862.7h1.3v1.3h-1.3zM760.2,1862.7h1.5v1.5h-1.5zM766.3,1862.7h1.5v1.5h-1.5zM497.9,1868.8h1.7v1.7h-1.7zM644.3,1868.8h1.6v1.6h-1.6zM656.5,1868.8h1.5v1.5h-1.5zM674.8,1868.8h1.7v1.7h-1.7zM680.9,1868.8h1.7v1.7h-1.7zM699.2,1868.8h1.6v1.6h-1.6zM748.0,1868.8h1.4v1.4h-1.4zM430.8,1874.9h1.3v1.3h-1.3zM491.8,1874.9h1.5v1.5h-1.5zM589.4,1874.9h1.2v1.2h-1.2zM601.6,1874.9h1.6v1.6h-1.6zM607.7,1874.9h1.7v1.7h-1.7zM613.8,1874.9h1.8v1.8h-1.8zM619.9,1874.9h1.0v1.0h-1.0zM632.1,1874.9h1.6v1.6h-1.6zM674.8,1874.9h1.5v1.5h-1.5zM693.1,1874.9h1.2v1.2h-1.2zM699.2,1874.9h1.7v1.7h-1.7zM705.3,1874.9h1.6v1.6h-1.6zM711.4,1874.9h1.6v1.6h-1.6zM723.6,1874.9h1.2v1.2h-1.2zM412.5,1881.0h1.2v1.2h-1.2zM510.1,1881.0h1.3v1.3h-1.3zM552.8,1881.0h1.4v1.4h-1.4zM601.6,1881.0h1.1v1.1h-1.1zM687.0,1881.0h1.7v1.7h-1.7z" fill="#fff" fill-opacity="0.45" stroke="none"/>
<text x="10.3" y="409.3" font-size="11.6" textLength="282.2" lengthAdjust="spacing" class="c"><tspan font-weight="bold">10 000 BC.</tspan><tspan font-weight="normal">  The inhabitants of the paper square</tspan></text>
<text x="10.3" y="421.9" font-size="11.6" font-weight="normal" textLength="253.1" lengthAdjust="spacing" class="c">have no conception of the true nature of the</text>
<text x="10.3" y="435" font-size="11.6" font-weight="normal" textLength="122.4" lengthAdjust="spacing" class="c">universe they inhabit.</text>
<text x="416.6" y="407.8" font-size="11.6" textLength="270.1" lengthAdjust="spacing" class="c"><tspan font-weight="bold">1900 AD.</tspan><tspan font-weight="normal">  Physicists of the square discover a</tspan></text>
<text x="416.6" y="420.6" font-size="11.6" font-weight="normal" textLength="280.2" lengthAdjust="spacing" class="c">basic subdivision of their universe.  They call it</text>
<text x="416.6" y="433.5" font-size="11.6" font-weight="normal" textLength="231.4" lengthAdjust="spacing" class="c">the “triangle” and consider it to be-the</text>
<text x="416.6" y="446.3" font-size="11.6" font-weight="normal" textLength="252.1" lengthAdjust="spacing" class="c">fundamental building block of the universe.</text>
<text x="42.75" y="892.8" font-size="11.6" textLength="280.4" lengthAdjust="spacing" class="c"><tspan font-weight="bold">1930 AD.</tspan><tspan font-weight="normal">  Physicists discover that the triangle</tspan></text>
<text x="42.75" y="905.4" font-size="11.6" font-weight="normal" textLength="216.8" lengthAdjust="spacing" class="c">can be split.  Its parts are termed the</text>
<text x="42.75" y="918.1" font-size="11.6" font-weight="normal" textLength="280.9" lengthAdjust="spacing" class="c">“hemitriangle” and the “demitriangle.”  These</text>
<text x="42.75" y="931.25" font-size="11.6" font-weight="normal" textLength="243.2" lengthAdjust="spacing" class="c">are thought to be the fundamental building</text>
<text x="42.75" y="944.4" font-size="11.6" font-weight="normal" textLength="130.8" lengthAdjust="spacing" class="c">blocks of the universe.</text>
<text x="414" y="890" font-size="11.6" textLength="280.8" lengthAdjust="spacing" class="c"><tspan font-weight="bold">1950 AD.</tspan><tspan font-weight="normal">  Mirror images of the hemitriangle and</tspan></text>
<text x="414" y="903.2" font-size="11.6" font-weight="normal" textLength="253.5" lengthAdjust="spacing" class="c">the demitriangle are discovered.  These are</text>
<text x="414" y="916" font-size="11.6" font-weight="normal" textLength="177.4" lengthAdjust="spacing" class="c">termed “antihemitriangle” and</text>
<text x="414" y="928.5" font-size="11.6" font-weight="normal" textLength="109.1" lengthAdjust="spacing" class="c">“antidemitriangle.”</text>
<text x="11.25" y="1394.7" font-size="11.6" textLength="239.2" lengthAdjust="spacing" class="c"><tspan font-weight="bold">1960 AD.</tspan><tspan font-weight="normal">  Physicists’ conception of their</tspan></text>
<text x="11.25" y="1408.75" font-size="11.6" font-weight="normal" textLength="274.4" lengthAdjust="spacing" class="c">universe is further clouded by new discoveries:</text>
<text x="11.25" y="1421.5" font-size="11.6" font-weight="normal" textLength="209.9" lengthAdjust="spacing" class="c">the rhombus, the parallelogram, the</text>
<text x="11.25" y="1434.6" font-size="11.6" font-weight="normal" textLength="250.4" lengthAdjust="spacing" class="c">antiparallelogram, the nonalateral and many</text>
<text x="11.25" y="1448.1" font-size="11.6" font-weight="normal" textLength="248.2" lengthAdjust="spacing" class="c">others.  It is unclear what these discoveries</text>
<text x="11.25" y="1462.2" font-size="11.6" font-weight="normal" textLength="38.2" lengthAdjust="spacing" class="c">signify.</text>
<text x="418.1" y="1391.3" font-size="11.6" textLength="204.4" lengthAdjust="spacing" class="c"><tspan font-weight="bold">1970 AD.</tspan><tspan font-weight="normal">  A new configuration, the</tspan></text>
<text x="418.1" y="1405" font-size="11.6" font-weight="normal" textLength="262.5" lengthAdjust="spacing" class="c">“hemidemisemitriangle,” is hypothesized, out</text>
<text x="418.1" y="1418.1" font-size="11.6" font-weight="normal" textLength="279.4" lengthAdjust="spacing" class="c">of which all known configurations of the universe</text>
<text x="418.1" y="1431.25" font-size="11.6" font-weight="normal" textLength="273.7" lengthAdjust="spacing" class="c">can be constructed.  The hemidemisemitriangle</text>
<text x="418.1" y="1444.9" font-size="11.6" font-weight="normal" textLength="279.4" lengthAdjust="spacing" class="c">is thought to be the fundamental building block</text>
<text x="418.1" y="1458.4" font-size="11.6" font-weight="normal" textLength="88.1" lengthAdjust="spacing" class="c">of the universe.</text>
<text x="43.1" y="1908.4" font-size="11.6" textLength="226.9" lengthAdjust="spacing" class="c"><tspan font-weight="bold">1975 AD.</tspan><tspan font-weight="normal">  The hemidemisemitriangle is</tspan></text>
<text x="43.1" y="1921" font-size="11.6" font-weight="normal" textLength="198.7" lengthAdjust="spacing" class="c">discovered.  The following year the</text>
<text x="43.1" y="1934.1" font-size="11.6" font-weight="normal" textLength="168.7" lengthAdjust="spacing" class="c">hemidemisemitriangle is split.</text>
<text x="415.9" y="1907.9" font-size="11.6" textLength="277.1" lengthAdjust="spacing" class="c"><tspan font-weight="bold">2000 AD.</tspan><tspan font-weight="normal">  The inhabitants of this paper square</tspan></text>
<text x="415.9" y="1921" font-size="11.6" font-weight="normal" textLength="248.9" lengthAdjust="spacing" class="c">have no conception of the true nature of the</text>
<text x="415.9" y="1934.7" font-size="11.6" font-weight="normal" textLength="122.2" lengthAdjust="spacing" class="c">universe they inhabit.</text>
<text x="572.5" y="78.5" font-size="12.4" font-weight="bold" textLength="66.0" lengthAdjust="spacing" class="l">The triangle</text>
<text x="81.5" y="546" font-size="12.4" font-weight="bold" textLength="94.5" lengthAdjust="spacing" class="l">The demitriangle</text>
<text x="209" y="546" font-size="12.4" font-weight="bold" textLength="94.5" lengthAdjust="spacing" class="l">The hemitriangle</text>
<text x="488.5" y="542.5" font-size="12.4" font-weight="bold" textLength="93.0" lengthAdjust="spacing" class="l">The demitriangle</text>
<text x="617.5" y="542.5" font-size="12.4" font-weight="bold" textLength="93.5" lengthAdjust="spacing" class="l">The hemitriangle</text>
<text x="448.5" y="853.5" font-size="12.4" font-weight="bold" textLength="115.0" lengthAdjust="spacing" class="l">The antidemitriangle</text>
<text x="642.5" y="853.5" font-size="12.4" font-weight="bold" textLength="115.0" lengthAdjust="spacing" class="l">The antihemitriangle</text>
<text x="190" y="1043.5" font-size="12.4" font-weight="bold" textLength="100.0" lengthAdjust="spacing" class="l">The parallelogram</text>
<text x="21" y="1118.5" font-size="12.4" font-weight="bold" textLength="86.5" lengthAdjust="spacing" class="l">The nonalateral</text>
<text x="255" y="1183.5" font-size="12.4" font-weight="bold" textLength="73.5" lengthAdjust="spacing" class="l">The rhombus</text>
<text x="16.5" y="1249" font-size="12.4" font-weight="bold" textLength="107.5" lengthAdjust="spacing" class="l">The antinonalateral</text>
<text x="216" y="1348.5" font-size="12.4" font-weight="bold" textLength="122.5" lengthAdjust="spacing" class="l">The antiparallelogram</text>
<rect x="598" y="1135" width="154" height="17" fill="#fff" stroke="none"/>
<text x="603" y="1147" font-size="12.4" font-weight="bold" textLength="147.0" lengthAdjust="spacing" class="l">The hemidemisemitriangle</text>
<circle cx="202" cy="125" r="0.7" fill="#000" stroke="none"/>
<circle cx="287" cy="126" r="1.3" fill="#000" stroke="none"/>
<circle cx="80" cy="134" r="0.6" fill="#000" stroke="none"/>
<circle cx="372" cy="70" r="0.6" fill="#000" stroke="none"/>
<circle cx="355" cy="211" r="0.6" fill="#000" stroke="none"/>
<circle cx="212" cy="206" r="0.5" fill="#000" stroke="none"/>
<circle cx="235" cy="280" r="0.7" fill="#000" stroke="none"/>
<circle cx="329" cy="271" r="0.7" fill="#000" stroke="none"/>
<circle cx="359" cy="292" r="0.8" fill="#000" stroke="none"/>
<circle cx="368" cy="334" r="0.8" fill="#000" stroke="none"/>
<circle cx="328" cy="364" r="0.8" fill="#000" stroke="none"/>
<circle cx="26" cy="103" r="0.5" fill="#000" stroke="none"/>
<circle cx="256" cy="19" r="0.5" fill="#000" stroke="none"/>
<circle cx="757" cy="273" r="2.4" fill="#000" stroke="none"/>
<circle cx="703" cy="218" r="0.6" fill="#000" stroke="none"/>
<circle cx="638" cy="92" r="0.5" fill="#000" stroke="none"/>
<circle cx="690" cy="188" r="0.5" fill="#000" stroke="none"/>
<circle cx="680" cy="250" r="0.6" fill="#000" stroke="none"/>
<circle cx="578" cy="195" r="0.5" fill="#000" stroke="none"/>
<circle cx="117" cy="527" r="1.0" fill="#000" stroke="none"/>
<circle cx="90" cy="582" r="0.6" fill="#000" stroke="none"/>
<circle cx="291" cy="587" r="0.6" fill="#000" stroke="none"/>
<circle cx="372" cy="712" r="0.8" fill="#000" stroke="none"/>
<circle cx="2" cy="738" r="0.6" fill="#000" stroke="none"/>
<circle cx="451" cy="569" r="0.7" fill="#000" stroke="none"/>
<circle cx="448" cy="596" r="0.6" fill="#000" stroke="none"/>
<circle cx="667" cy="569" r="0.6" fill="#000" stroke="none"/>
<circle cx="476" cy="708" r="0.7" fill="#000" stroke="none"/>
<circle cx="524" cy="705" r="0.6" fill="#000" stroke="none"/>
<circle cx="521" cy="831" r="0.6" fill="#000" stroke="none"/>
<circle cx="564" cy="920" r="0.6" fill="#000" stroke="none"/>
<circle cx="160.3" cy="955.6" r="1.0" fill="#000" stroke="none"/>
<circle cx="300" cy="1003" r="0.6" fill="#000" stroke="none"/>
<circle cx="48" cy="1224" r="1.3" fill="#000" stroke="none"/>
<circle cx="155" cy="1345" r="0.5" fill="#000" stroke="none"/>
<circle cx="163" cy="1270" r="0.4" fill="#000" stroke="none"/>
<circle cx="612" cy="1168" r="0.6" fill="#000" stroke="none"/>
<circle cx="596" cy="1247" r="0.8" fill="#000" stroke="none"/>
<circle cx="538" cy="1269" r="0.4" fill="#000" stroke="none"/>
<circle cx="775" cy="1256" r="0.6" fill="#000" stroke="none"/>
<circle cx="470" cy="1357" r="0.8" fill="#000" stroke="none"/>
<circle cx="599" cy="1356" r="0.8" fill="#000" stroke="none"/>
<circle cx="740" cy="1441" r="0.6" fill="#000" stroke="none"/>
<circle cx="780" cy="1413" r="0.6" fill="#000" stroke="none"/>
<circle cx="15" cy="1938" r="0.7" fill="#000" stroke="none"/>
<circle cx="35" cy="1940" r="0.6" fill="#000" stroke="none"/>
<circle cx="58" cy="1938" r="0.6" fill="#000" stroke="none"/>
<circle cx="604" cy="1932" r="1.0" fill="#000" stroke="none"/>
<circle cx="690" cy="1906" r="0.5" fill="#000" stroke="none"/>
<line x1="223" y1="29.5" x2="231" y2="27.5" stroke-width="1.3"/>
<line x1="51" y1="972.5" x2="222" y2="972.5" stroke="#444" stroke-width="1.1" stroke-dasharray="3 3 2 4 4 2 4 3 3 2 6 3 5 5 3 7 5 2 3 6 2 8 5 3"/>
<circle cx="267" cy="435" r="0.6" fill="#000" stroke="none"/>
<circle cx="351" cy="437" r="0.6" fill="#000" stroke="none"/>
<circle cx="741" cy="1441" r="0.6" fill="#000" stroke="none"/>
<line x1="335.81" y1="1038.31" x2="339.81" y2="1042.31" stroke-width="1.4"/>
<line x1="336.36" y1="1135.97" x2="340.36" y2="1131.97" stroke-width="1.4"/>
<line x1="336.91" y1="1225.63" x2="340.91" y2="1229.63" stroke-width="1.4"/>
<line x1="337.46" y1="1323.28" x2="341.46" y2="1319.28" stroke-width="1.4"/>
<g transform="translate(170,255) scale(0.075)"><path d="M305,825 L462,825 L418,1478 L252,1510 Z" fill="#fff" stroke="#111" stroke-width="22" stroke-linejoin="round"/><path d="M258,1530 L440,1515 L470,1490 L505,1500 L505,1545 L490,1595 L280,1600 Z" fill="#fff" stroke="#111" stroke-width="22" stroke-linejoin="round"/><path d="M280,1545 L470,1530" fill="none" stroke="#111" stroke-width="18" stroke-linecap="round" stroke-linejoin="round"/><path d="M232,183 L308,137 L378,195 L407,253 L472,259 L495,312 L530,370 L536,545 L565,568 L512,685 L472,708 L483,813 L470,830 L300,830 L262,802 L238,673 L215,428 L244,317 L268,253 L232,201 Z" fill="#111" stroke="#111" stroke-width="8" stroke-linejoin="round"/><path d="M285,411 L337,440 L396,510 L425,562 L518,592 L512,638 L483,673 L378,644 L308,562 L285,475 Z" fill="#fff" stroke="none"/><path d="M437,393 L518,393 L518,545 L437,545 Z" fill="#fff" stroke="none"/><path d="M372,347 L402,358 L425,475 L407,487 Z" fill="#fff" stroke="none"/><path d="M425,265 L483,277 L483,358 L437,347 Z" fill="#fff" stroke="none"/><path d="M291,189 L355,183 L372,259 L337,323 L308,300 L303,236 Z" fill="#fff" stroke="none"/><path d="M285,673 L308,679 L314,802 L297,802 Z" fill="#fff" stroke="none"/></g>
<g transform="translate(555,245) scale(0.125)"><path d="M350,180 L440,160 L600,105 L650,70 L690,90 L680,120 L610,140 L600,160 L460,235 L460,480 L470,920 L500,945 L505,975 L470,985 L410,975 L405,1000 L380,1020 L320,1010 L300,985 L320,960 L340,500 L330,310 L160,360 L90,385 L65,365 L75,340 L120,320 L140,300 L320,195 Z" fill="#fff" stroke="#111" stroke-width="13" stroke-linejoin="round"/><path d="M140,300 L160,355" fill="none" stroke="#111" stroke-width="10" stroke-linecap="round" stroke-linejoin="round"/><path d="M600,108 L612,145" fill="none" stroke="#111" stroke-width="10" stroke-linecap="round" stroke-linejoin="round"/><path d="M438,540 L398,962" fill="none" stroke="#111" stroke-width="10" stroke-linecap="round" stroke-linejoin="round"/><path d="M305,985 L405,978" fill="none" stroke="#111" stroke-width="10" stroke-linecap="round" stroke-linejoin="round"/><path d="M345,110 C350,60 420,60 425,110 L420,200 L402,232 L382,168 L352,152 Z" fill="#111" stroke="#111" stroke-width="6" stroke-linejoin="round"/><path d="M362,128 L388,122 L392,158 L368,160 Z" fill="#fff" stroke="#111" stroke-width="4" stroke-linejoin="round"/><path d="M340,250 L380,255 L400,330 L395,430 L415,460 L380,482 L340,482 Z" fill="#111" stroke="#111" stroke-width="6" stroke-linejoin="round"/></g>
<g transform="translate(145,725) scale(0.1)"><path d="M515,0 L515,20" fill="none" stroke="#111" stroke-width="18" stroke-linecap="round" stroke-linejoin="round"/><path d="M520,1280 L520,1360" fill="none" stroke="#111" stroke-width="18" stroke-linecap="round" stroke-linejoin="round"/><path d="M460,250 L560,220 L620,270 L680,420 L690,620 L712,690 L660,690 L620,660 L600,700 L610,1210 L600,1262 L540,1282 L450,1290 L430,1270 L482,1240 L470,760 L430,700 L330,790 L290,960 L262,1080 L240,1130 L130,1110 L100,1080 L120,1050 L180,1040 L210,920 L250,790 L400,640 L390,560 L340,530 L330,510 L370,490 L390,400 Z" fill="#fff" stroke="#111" stroke-width="15" stroke-linejoin="round"/><path d="M185,1048 L268,1082" fill="none" stroke="#111" stroke-width="12" stroke-linecap="round" stroke-linejoin="round"/><path d="M482,1232 L600,1222" fill="none" stroke="#111" stroke-width="12" stroke-linecap="round" stroke-linejoin="round"/><path d="M455,232 C450,150 500,108 540,122 C578,140 576,190 562,232 Z" fill="#111" stroke="#111" stroke-width="6" stroke-linejoin="round"/><path d="M470,240 L570,232 L592,380 L612,600 L562,620 L520,612 L490,600 L476,450 Z" fill="#111" stroke="#111" stroke-width="6" stroke-linejoin="round"/><circle cx="512" cy="162" r="14" fill="#fff" stroke="none"/><circle cx="510" cy="212" r="10" fill="#fff" stroke="none"/><circle cx="545" cy="292" r="12" fill="#fff" stroke="none"/><circle cx="500" cy="382" r="10" fill="#fff" stroke="none"/><circle cx="530" cy="432" r="12" fill="#fff" stroke="none"/><circle cx="508" cy="472" r="9" fill="#fff" stroke="none"/><circle cx="560" cy="502" r="11" fill="#fff" stroke="none"/><circle cx="598" cy="492" r="10" fill="#fff" stroke="none"/><circle cx="520" cy="562" r="12" fill="#fff" stroke="none"/><path d="M420,700 L460,690 L472,742 L420,800 L342,822 L302,1000 L272,1062 L250,1050 L290,930 L320,800 L380,730 Z" fill="#111" stroke="#111" stroke-width="4" stroke-linejoin="round"/></g>
<g transform="translate(565,730) scale(0.0875)"><path d="M380,110 L470,95 L500,130 L490,220 L580,260 L620,320 L670,480 L660,640 L610,720 L540,720 L446,772 L430,880 L322,1340 L300,1390 L140,1400 L110,1370 L140,1340 L200,1320 L250,900 L280,700 L270,670 L310,630 L330,250 L370,230 Z" fill="#111" stroke="#111" stroke-width="6" stroke-linejoin="round"/><path d="M446,772 L545,735 L600,943 L697,1232 L690,1265 L630,1300 L583,1300 L514,1006 Z" fill="#fff" stroke="#111" stroke-width="16" stroke-linejoin="round"/><path d="M503,1006 L617,1075 L570,1100 L590,1300 L548,1300 L512,1030 Z" fill="#111" stroke="#111" stroke-width="4" stroke-linejoin="round"/><path d="M602,1318 L655,1322 L684,1400 L660,1432 L622,1422 L598,1360 Z" fill="#fff" stroke="#111" stroke-width="18" stroke-linejoin="round"/><path d="M402,182 L448,162 L462,205 L422,225 Z" fill="#fff" stroke="#111" stroke-width="4" stroke-linejoin="round"/><path d="M430,295 L510,250 L585,285 L642,470 L636,625 L600,645 L562,592 L578,470 L530,312 L470,430 L452,590 L500,652 L442,700 L418,470 Z" fill="#fff" stroke="#111" stroke-width="4" stroke-linejoin="round"/><path d="M540,660 L600,650 L612,700 L560,720 Z" fill="#fff" stroke="#111" stroke-width="16" stroke-linejoin="round"/><path d="M132,1370 L200,1342 L288,1352 L298,1380 L200,1395 L142,1390 Z" fill="#fff" stroke="#111" stroke-width="4" stroke-linejoin="round"/></g>
<g transform="translate(125,1235) scale(0.09375)"><path d="M230,80 L300,60 L340,110 L330,180 L360,240 L400,440 L410,470 L450,480 L455,500 L410,520 L380,530 L360,590 L540,760 L620,1040 L680,1050 L690,1090 L620,1120 L540,1110 L500,1040 L440,860 L330,720 L300,960 L280,1220 L330,1260 L330,1300 L280,1310 L180,1270 L160,1230 L190,1000 L170,640 L150,600 L110,640 L50,650 L50,630 L90,580 L80,380 L160,200 L220,160 Z" fill="#fff" stroke="#111" stroke-width="16" stroke-linejoin="round"/><path d="M540,1060 L620,1040" fill="none" stroke="#111" stroke-width="12" stroke-linecap="round" stroke-linejoin="round"/><path d="M165,1225 L280,1220" fill="none" stroke="#111" stroke-width="12" stroke-linecap="round" stroke-linejoin="round"/><path d="M215,100 C220,60 290,50 320,70 C340,100 340,150 320,190 L250,190 L230,140 Z" fill="#111" stroke="#111" stroke-width="6" stroke-linejoin="round"/><path d="M252,122 L285,132 L298,178 L270,170 Z" fill="#fff" stroke="#111" stroke-width="4" stroke-linejoin="round"/><path d="M180,190 L330,180 L350,300 L332,540 L200,560 L150,540 L145,430 Z" fill="#111" stroke="#111" stroke-width="6" stroke-linejoin="round"/><path d="M320,680 L360,690 L470,800 L520,960 L532,1060 L500,1050 L470,940 L420,810 L330,740 Z" fill="#111" stroke="#111" stroke-width="4" stroke-linejoin="round"/></g>
<g transform="translate(625,1230) scale(0.075)"><path d="M300,280 L420,260 L480,310 L560,480 L620,580 L540,640 L420,720 L380,740 L400,1000 L420,1120 L480,1250 L520,1580 L500,1620 L420,1640 L300,1640 L280,1600 L350,1560 L320,1500 L200,1510 L130,1500 L130,1460 L190,1390 L180,900 L170,650 L220,440 Z" fill="#fff" stroke="#111" stroke-width="20" stroke-linejoin="round"/><path d="M212,880 C262,1000 302,1200 352,1530" fill="none" stroke="#111" stroke-width="16" stroke-linecap="round" stroke-linejoin="round"/><path d="M320,740 L372,762 L392,732" fill="none" stroke="#111" stroke-width="14" stroke-linecap="round" stroke-linejoin="round"/><path d="M200,1400 L320,1420" fill="none" stroke="#111" stroke-width="14" stroke-linecap="round" stroke-linejoin="round"/><path d="M300,1600 L500,1580" fill="none" stroke="#111" stroke-width="14" stroke-linecap="round" stroke-linejoin="round"/><path d="M350,662 L560,562 L612,600 L420,720 Z" fill="#fff" stroke="#111" stroke-width="16" stroke-linejoin="round"/><path d="M270,170 C280,110 350,90 400,120 C420,170 410,250 380,290 L310,290 L260,250 Z" fill="#111" stroke="#111" stroke-width="6" stroke-linejoin="round"/><path d="M320,192 L345,186 L340,240 L320,240 Z" fill="#fff" stroke="#111" stroke-width="4" stroke-linejoin="round"/><path d="M230,660 L400,370 L530,520 L350,640 Z" fill="#111" stroke="#111" stroke-width="6" stroke-linejoin="round"/></g>
<g transform="translate(215,1760) scale(0.06875)"><path d="M250,860 L500,860 L500,1000 L530,1570 L520,1640 L390,1640 L380,1690 L180,1690 L170,1640 L250,1620 Z" fill="#fff" stroke="#111" stroke-width="22" stroke-linejoin="round"/><path d="M420,962 C390,982 380,1100 390,1350 L410,1580" fill="none" stroke="#111" stroke-width="18" stroke-linecap="round" stroke-linejoin="round"/><path d="M392,1585 L512,1565" fill="none" stroke="#111" stroke-width="16" stroke-linecap="round" stroke-linejoin="round"/><path d="M182,1640 L382,1640" fill="none" stroke="#111" stroke-width="16" stroke-linecap="round" stroke-linejoin="round"/><path d="M290,200 L340,120 L450,120 L470,200 L460,290 L540,340 L600,700 L580,760 L500,840 L250,862 L220,720 L200,400 L240,340 L300,300 Z" fill="#111" stroke="#111" stroke-width="8" stroke-linejoin="round"/><path d="M242,392 L300,382 L330,500 L340,690 L290,700 L242,640 L222,520 Z" fill="#fff" stroke="#111" stroke-width="4" stroke-linejoin="round"/><circle cx="400" cy="320" r="14" fill="#fff" stroke="none"/><circle cx="490" cy="430" r="12" fill="#fff" stroke="none"/><circle cx="430" cy="470" r="16" fill="#fff" stroke="none"/><circle cx="450" cy="550" r="12" fill="#fff" stroke="none"/><circle cx="440" cy="650" r="14" fill="#fff" stroke="none"/><circle cx="540" cy="690" r="10" fill="#fff" stroke="none"/><circle cx="350" cy="712" r="18" fill="#fff" stroke="none"/><circle cx="432" cy="792" r="16" fill="#fff" stroke="none"/><path d="M312,202 L360,202 L370,250 L322,260 Z" fill="#fff" stroke="#111" stroke-width="4" stroke-linejoin="round"/></g>
<g transform="translate(570,1765) scale(0.075)"><path d="M450,140 L490,90 L520,110 L540,130 L500,160 L500,210 L460,210 Z" fill="#fff" stroke="none"/><path d="M315,290 L370,280 L390,300 L390,430 L320,430 Z" fill="#fff" stroke="none"/><path d="M410,240 L440,235 L420,350 L405,345 Z" fill="#fff" stroke="none"/><path d="M310,510 C350,470 420,460 460,350 C500,310 540,300 550,340 C550,420 500,470 430,520 C390,550 330,570 310,540 Z" fill="#fff" stroke="none"/><path d="M390,710 L510,700 L520,570 L545,570 L540,700 L570,1390 L450,1390 Z" fill="#fff" stroke="none"/><path d="M380,1440 L450,1410 L550,1420 L560,1460 L530,1480 L400,1460 Z" fill="#fff" stroke="none"/><path d="M360,1385 L420,1385 L410,1410 L360,1410 Z" fill="#fff" stroke="none"/></g>
</svg></body></html>
